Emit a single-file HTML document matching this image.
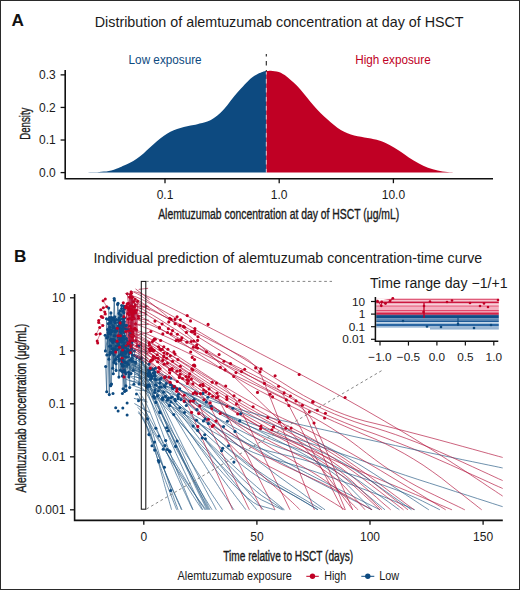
<!DOCTYPE html>
<html><head><meta charset="utf-8"><style>
html,body{margin:0;padding:0;background:#fff;}
svg{display:block;}
text{font-family:"Liberation Sans", sans-serif;}
</style></head><body>
<svg width="520" height="590" viewBox="0 0 520 590">
<defs><clipPath id="clipB"><rect x="75.4" y="283" width="427.4" height="228"/></clipPath></defs>
<rect x="0" y="0" width="520" height="590" fill="#fff"/>
<rect x="0.5" y="0.5" width="519" height="589" fill="none" stroke="#2a2a2a" stroke-width="1"/>
<path d="M84.00,172.60 L84.00,172.60 C85.33,172.55 89.47,172.42 92.00,172.30 C94.53,172.18 96.40,172.12 99.20,171.90 C102.00,171.68 105.58,171.67 108.80,171.00 C112.02,170.33 115.97,168.80 118.50,167.90 C121.03,167.00 122.08,166.45 124.00,165.60 C125.92,164.75 127.88,163.95 130.00,162.80 C132.12,161.65 134.45,160.27 136.70,158.70 C138.95,157.13 141.25,155.30 143.50,153.40 C145.75,151.50 147.97,149.33 150.20,147.30 C152.43,145.27 154.67,143.10 156.90,141.20 C159.13,139.30 161.35,137.47 163.60,135.90 C165.85,134.33 168.15,132.93 170.40,131.80 C172.65,130.67 174.87,129.88 177.10,129.10 C179.33,128.32 181.55,127.70 183.80,127.10 C186.05,126.50 188.35,125.98 190.60,125.50 C192.85,125.02 194.52,124.85 197.30,124.20 C200.08,123.55 204.52,122.63 207.30,121.60 C210.08,120.57 211.75,119.52 214.00,118.00 C216.25,116.48 218.55,114.68 220.80,112.50 C223.05,110.32 225.27,107.60 227.50,104.90 C229.73,102.20 231.95,99.03 234.20,96.30 C236.45,93.57 238.75,90.97 241.00,88.50 C243.25,86.03 245.70,83.45 247.70,81.50 C249.70,79.55 251.20,78.13 253.00,76.80 C254.80,75.47 256.92,74.32 258.50,73.50 C260.08,72.68 261.20,72.30 262.50,71.90 C263.80,71.50 265.67,71.23 266.30,71.10 L266.30,172.60 Z" fill="#0d4a80"/>
<path d="M266.30,172.60 L266.30,71.10 C267.05,71.05 269.42,70.78 270.80,70.80 C272.18,70.82 273.27,70.98 274.60,71.20 C275.93,71.42 277.43,71.63 278.80,72.10 C280.17,72.57 281.45,73.23 282.80,74.00 C284.15,74.77 285.10,75.27 286.90,76.70 C288.70,78.13 291.35,80.45 293.60,82.60 C295.85,84.75 298.17,87.10 300.40,89.60 C302.63,92.10 304.77,94.90 307.00,97.60 C309.23,100.30 311.55,103.23 313.80,105.80 C316.05,108.37 318.25,110.77 320.50,113.00 C322.75,115.23 325.05,117.20 327.30,119.20 C329.55,121.20 331.75,123.20 334.00,125.00 C336.25,126.80 338.55,128.63 340.80,130.00 C343.05,131.37 345.27,132.30 347.50,133.20 C349.73,134.10 351.95,134.80 354.20,135.40 C356.45,136.00 358.75,136.35 361.00,136.80 C363.25,137.25 365.53,137.70 367.70,138.10 C369.87,138.50 371.95,138.75 374.00,139.20 C376.05,139.65 377.40,139.83 380.00,140.80 C382.60,141.77 386.40,143.33 389.60,145.00 C392.80,146.67 396.00,148.72 399.20,150.80 C402.40,152.88 405.58,155.42 408.80,157.50 C412.02,159.58 415.30,161.60 418.50,163.30 C421.70,165.00 424.80,166.52 428.00,167.70 C431.20,168.88 434.48,169.70 437.70,170.40 C440.92,171.10 444.25,171.57 447.30,171.90 C450.35,172.23 452.80,172.28 456.00,172.40 C459.20,172.52 463.83,172.57 466.50,172.60 C469.17,172.63 471.08,172.60 472.00,172.60 L472.00,172.60 Z" fill="#c00024"/>
<line x1="266.3" y1="54" x2="266.3" y2="71.5" stroke="#222" stroke-width="1.1" stroke-dasharray="4.6,4.4" stroke-dashoffset="2.1"/>
<line x1="266.3" y1="72" x2="266.3" y2="172.6" stroke="#fff" stroke-opacity="0.75" stroke-width="0.9" stroke-dasharray="4.6,4.4" stroke-dashoffset="2.1"/>
<path d="M65.2,70 V178.7 H493" fill="none" stroke="#111" stroke-width="1.6"/>
<line x1="60.6" y1="172.60" x2="65.2" y2="172.60" stroke="#111" stroke-width="1.3"/>
<text x="55.8" y="176.80" font-size="12" text-anchor="end" fill="#1a1a1a">0.0</text>
<line x1="60.6" y1="140.02" x2="65.2" y2="140.02" stroke="#111" stroke-width="1.3"/>
<text x="55.8" y="144.22" font-size="12" text-anchor="end" fill="#1a1a1a">0.1</text>
<line x1="60.6" y1="107.44" x2="65.2" y2="107.44" stroke="#111" stroke-width="1.3"/>
<text x="55.8" y="111.64" font-size="12" text-anchor="end" fill="#1a1a1a">0.2</text>
<line x1="60.6" y1="74.86" x2="65.2" y2="74.86" stroke="#111" stroke-width="1.3"/>
<text x="55.8" y="79.06" font-size="12" text-anchor="end" fill="#1a1a1a">0.3</text>
<line x1="165.00" y1="178.7" x2="165.00" y2="183.2" stroke="#111" stroke-width="1.3"/>
<text x="165.00" y="198.8" font-size="12" text-anchor="middle" fill="#1a1a1a">0.1</text>
<line x1="279.20" y1="178.7" x2="279.20" y2="183.2" stroke="#111" stroke-width="1.3"/>
<text x="279.20" y="198.8" font-size="12" text-anchor="middle" fill="#1a1a1a">1.0</text>
<line x1="393.40" y1="178.7" x2="393.40" y2="183.2" stroke="#111" stroke-width="1.3"/>
<text x="393.40" y="198.8" font-size="12" text-anchor="middle" fill="#1a1a1a">10.0</text>
<path d="M74.6,294 V520.4 H502.8" fill="none" stroke="#111" stroke-width="1.6"/>
<line x1="70" y1="297.80" x2="74.6" y2="297.80" stroke="#111" stroke-width="1.3"/>
<text x="65.4" y="302.00" font-size="12" text-anchor="end" fill="#1a1a1a">10</text>
<line x1="70" y1="350.80" x2="74.6" y2="350.80" stroke="#111" stroke-width="1.3"/>
<text x="65.4" y="355.00" font-size="12" text-anchor="end" fill="#1a1a1a">1</text>
<line x1="70" y1="403.80" x2="74.6" y2="403.80" stroke="#111" stroke-width="1.3"/>
<text x="65.4" y="408.00" font-size="12" text-anchor="end" fill="#1a1a1a">0.1</text>
<line x1="70" y1="456.80" x2="74.6" y2="456.80" stroke="#111" stroke-width="1.3"/>
<text x="65.4" y="461.00" font-size="12" text-anchor="end" fill="#1a1a1a">0.01</text>
<line x1="70" y1="509.80" x2="74.6" y2="509.80" stroke="#111" stroke-width="1.3"/>
<text x="65.4" y="514.00" font-size="12" text-anchor="end" fill="#1a1a1a">0.001</text>
<line x1="143.80" y1="520.4" x2="143.80" y2="524.8" stroke="#111" stroke-width="1.3"/>
<text x="143.80" y="540.7" font-size="12" text-anchor="middle" fill="#1a1a1a">0</text>
<line x1="256.90" y1="520.4" x2="256.90" y2="524.8" stroke="#111" stroke-width="1.3"/>
<text x="256.90" y="540.7" font-size="12" text-anchor="middle" fill="#1a1a1a">50</text>
<line x1="370.00" y1="520.4" x2="370.00" y2="524.8" stroke="#111" stroke-width="1.3"/>
<text x="370.00" y="540.7" font-size="12" text-anchor="middle" fill="#1a1a1a">100</text>
<line x1="483.10" y1="520.4" x2="483.10" y2="524.8" stroke="#111" stroke-width="1.3"/>
<text x="483.10" y="540.7" font-size="12" text-anchor="middle" fill="#1a1a1a">150</text>
<g clip-path="url(#clipB)">
<polyline points="105.3,299.0 103.1,300.7 106.8,306.8 103.3,307.8 100.7,309.8 104.8,311.9 105.3,313.9 101.2,316.4 102.8,317.5 98.7,320.5 98.7,322.6 102.8,325.6 99.7,327.6 96.1,334.3 100.2,333.7 97.2,340.9 97.7,342.9" fill="none" stroke="#b41840" stroke-width="0.75" stroke-opacity="0.7"/>
<polyline points="118.3,336.9 118.7,344.9 118.9,377.1 119.4,324.1 120.4,370.2 122.3,355.1 122.9,347.2 123.7,371.1 123.9,345.4" fill="none" stroke="#2a5c86" stroke-width="0.9" stroke-opacity="0.80"/>
<polyline points="106.8,355.0 108.3,323.6 108.9,359.3 110.7,345.7 113.9,355.0" fill="none" stroke="#2a5c86" stroke-width="0.9" stroke-opacity="0.80"/>
<polyline points="111.0,339.2 111.7,330.5 112.7,342.6 112.7,368.2 114.0,340.0 114.9,322.5 115.4,341.3" fill="none" stroke="#2a5c86" stroke-width="0.9" stroke-opacity="0.80"/>
<polyline points="118.3,325.8 118.4,322.6 121.4,324.0 122.2,322.3" fill="none" stroke="#2a5c86" stroke-width="0.9" stroke-opacity="0.80"/>
<polyline points="121.7,360.4 124.6,391.4 124.7,328.5 125.9,346.6" fill="none" stroke="#2a5c86" stroke-width="0.9" stroke-opacity="0.80"/>
<polyline points="121.4,359.2 121.9,371.2 122.5,335.9 123.1,388.8" fill="none" stroke="#2a5c86" stroke-width="0.9" stroke-opacity="0.80"/>
<polyline points="109.7,332.7 111.8,348.7 112.0,341.3 112.7,318.1" fill="none" stroke="#2a5c86" stroke-width="0.9" stroke-opacity="0.80"/>
<polyline points="105.2,335.2 105.4,350.9 108.3,332.5 109.5,346.2 110.3,352.2 111.0,321.6" fill="none" stroke="#2a5c86" stroke-width="0.9" stroke-opacity="0.80"/>
<polyline points="110.1,322.8 110.7,340.1 110.9,312.9 111.4,317.6 111.5,331.7 115.0,322.8 115.2,335.7" fill="none" stroke="#2a5c86" stroke-width="0.9" stroke-opacity="0.80"/>
<polyline points="127.5,348.7 128.4,350.9 129.8,335.0 129.9,350.5 130.5,334.1 132.0,344.4" fill="none" stroke="#2a5c86" stroke-width="0.9" stroke-opacity="0.80"/>
<polyline points="120.3,331.6 120.8,329.0 120.9,347.1 120.9,331.3 121.3,346.7 122.0,340.8 123.6,347.5 124.0,332.5 124.5,336.0" fill="none" stroke="#2a5c86" stroke-width="0.9" stroke-opacity="0.80"/>
<polyline points="111.0,352.4 113.2,348.8 113.6,327.1 115.0,350.4 115.8,358.9 116.7,341.6" fill="none" stroke="#2a5c86" stroke-width="0.9" stroke-opacity="0.80"/>
<polyline points="118.3,342.0 118.8,359.3 120.9,353.9 121.4,324.9 122.1,358.9 122.4,324.9 123.3,322.0 124.0,324.3" fill="none" stroke="#2a5c86" stroke-width="0.9" stroke-opacity="0.80"/>
<polyline points="126.7,345.4 127.5,361.9 128.4,364.6 128.7,345.6 129.4,331.2 130.0,344.5 131.1,352.6" fill="none" stroke="#2a5c86" stroke-width="0.9" stroke-opacity="0.80"/>
<polyline points="118.6,327.5 120.0,310.8 120.4,339.5 120.9,315.4 121.3,333.1 124.3,321.6" fill="none" stroke="#2a5c86" stroke-width="0.9" stroke-opacity="0.80"/>
<polyline points="108.7,308.1 109.7,354.5 110.6,385.8 110.8,385.0 111.5,384.0 111.9,318.7 112.8,353.3 115.2,332.0 115.3,351.5" fill="none" stroke="#2a5c86" stroke-width="0.9" stroke-opacity="0.80"/>
<polyline points="117.7,342.7 119.0,313.4 119.1,320.7 119.4,320.1 120.1,327.7 121.6,308.6" fill="none" stroke="#2a5c86" stroke-width="0.9" stroke-opacity="0.80"/>
<polyline points="126.0,338.7 127.1,341.2 131.2,343.9 131.3,345.8 131.6,335.5 132.3,341.5" fill="none" stroke="#2a5c86" stroke-width="0.9" stroke-opacity="0.80"/>
<polyline points="119.4,335.4 122.4,376.1 122.5,342.0 124.5,356.1" fill="none" stroke="#2a5c86" stroke-width="0.9" stroke-opacity="0.80"/>
<polyline points="125.6,325.7 126.8,329.7 126.8,329.3 127.7,329.4 128.6,330.5 129.6,330.2 130.3,329.2" fill="none" stroke="#2a5c86" stroke-width="0.9" stroke-opacity="0.80"/>
<polyline points="121.7,353.1 122.2,365.7 124.0,351.2 124.2,339.4 126.3,357.3 126.5,325.3 127.2,329.3" fill="none" stroke="#2a5c86" stroke-width="0.9" stroke-opacity="0.80"/>
<polyline points="105.7,366.5 106.7,391.8 107.6,329.5 109.3,394.6 109.7,320.3 109.8,327.3 110.7,334.3" fill="none" stroke="#2a5c86" stroke-width="0.9" stroke-opacity="0.80"/>
<polyline points="117.6,304.5 120.1,325.1 120.4,323.9 121.7,305.5 122.5,319.0 123.0,311.3 124.2,306.2" fill="none" stroke="#2a5c86" stroke-width="0.9" stroke-opacity="0.80"/>
<polyline points="113.3,327.3 115.0,360.2 116.3,328.6 116.8,329.2 117.8,345.8 118.9,348.3" fill="none" stroke="#2a5c86" stroke-width="0.9" stroke-opacity="0.80"/>
<polyline points="113.2,339.3 113.3,373.7 114.1,318.1 116.2,346.3" fill="none" stroke="#2a5c86" stroke-width="0.9" stroke-opacity="0.80"/>
<polyline points="108.4,319.5 109.6,317.5 109.7,329.9 112.5,331.1 113.9,318.8 114.9,349.7 115.0,348.8" fill="none" stroke="#2a5c86" stroke-width="0.9" stroke-opacity="0.80"/>
<polyline points="117.7,356.7 119.0,318.0 119.6,339.5 122.7,326.5 124.4,326.7" fill="none" stroke="#2a5c86" stroke-width="0.9" stroke-opacity="0.80"/>
<polyline points="106.5,318.7 106.7,337.9 109.6,318.5 109.9,332.0 112.9,325.5" fill="none" stroke="#2a5c86" stroke-width="0.9" stroke-opacity="0.80"/>
<polyline points="108.0,336.9 108.5,333.7 110.2,331.0 111.1,322.9 113.2,327.7 114.0,335.8" fill="none" stroke="#2a5c86" stroke-width="0.9" stroke-opacity="0.80"/>
<polyline points="113.6,320.3 114.2,298.5 114.4,300.3 114.8,320.5 115.6,330.6 116.1,329.7 118.0,303.2" fill="none" stroke="#2a5c86" stroke-width="0.9" stroke-opacity="0.80"/>
<polyline points="113.9,340.1 114.0,362.4 114.8,316.8 116.9,331.0 116.9,349.8 118.8,320.4" fill="none" stroke="#2a5c86" stroke-width="0.9" stroke-opacity="0.80"/>
<polyline points="122.0,324.2 122.7,330.8 123.2,329.1 123.3,319.4 123.8,312.7 124.3,307.8 124.4,308.9 124.6,318.0" fill="none" stroke="#2a5c86" stroke-width="0.9" stroke-opacity="0.80"/>
<polyline points="125.8,351.7 126.3,338.5 126.5,351.8 128.4,356.7 128.6,351.2 129.2,353.6 131.0,373.6 131.9,332.6 132.4,355.1" fill="none" stroke="#2a5c86" stroke-width="0.9" stroke-opacity="0.80"/>
<polyline points="113.5,351.1 114.5,340.5 116.0,363.8 116.1,370.4 116.6,319.6" fill="none" stroke="#2a5c86" stroke-width="0.9" stroke-opacity="0.80"/>
<polyline points="121.4,341.9 121.5,363.7 121.7,351.5 123.1,349.5 123.3,365.9 125.1,372.1" fill="none" stroke="#2a5c86" stroke-width="0.9" stroke-opacity="0.80"/>
<polyline points="118.5,342.7 118.9,360.9 119.2,355.2 120.3,328.8 121.7,337.7 122.2,337.6 123.8,323.1" fill="none" stroke="#2a5c86" stroke-width="0.9" stroke-opacity="0.80"/>
<polyline points="123.3,302.7 123.9,316.7 128.2,343.7" fill="none" stroke="#b41840" stroke-width="0.9" stroke-opacity="0.80"/>
<polyline points="132.3,331.1 132.3,317.3 132.5,307.4 132.9,316.8 135.0,299.3" fill="none" stroke="#b41840" stroke-width="0.9" stroke-opacity="0.80"/>
<polyline points="134.8,328.9 135.5,323.9 135.6,312.7 138.4,316.0 138.6,318.2" fill="none" stroke="#b41840" stroke-width="0.9" stroke-opacity="0.80"/>
<polyline points="126.2,306.1 129.1,315.0 130.3,312.0" fill="none" stroke="#b41840" stroke-width="0.9" stroke-opacity="0.80"/>
<polyline points="132.0,307.3 133.2,313.4 134.3,306.9 134.9,328.2 135.7,340.8" fill="none" stroke="#b41840" stroke-width="0.9" stroke-opacity="0.80"/>
<polyline points="130.9,345.6 131.5,297.5 131.6,335.9 132.1,319.4 132.4,297.3 133.9,336.0" fill="none" stroke="#b41840" stroke-width="0.9" stroke-opacity="0.80"/>
<polyline points="126.9,307.6 128.9,309.8 129.0,307.7 130.1,305.9 130.8,308.8 132.1,312.7 132.5,314.3" fill="none" stroke="#b41840" stroke-width="0.9" stroke-opacity="0.80"/>
<polyline points="133.6,301.6 136.4,310.3 136.4,329.9 137.0,345.9 137.5,301.2" fill="none" stroke="#b41840" stroke-width="0.9" stroke-opacity="0.80"/>
<polyline points="129.8,311.8 133.3,312.5 134.3,311.8 134.7,311.6" fill="none" stroke="#b41840" stroke-width="0.9" stroke-opacity="0.80"/>
<polyline points="131.3,309.9 132.7,334.7 134.5,310.1" fill="none" stroke="#b41840" stroke-width="0.9" stroke-opacity="0.80"/>
<polyline points="127.8,307.8 128.1,343.1 128.3,319.1 130.4,352.6 131.1,306.7 131.3,347.8 132.0,306.6" fill="none" stroke="#b41840" stroke-width="0.9" stroke-opacity="0.80"/>
<polyline points="130.5,294.4 131.2,306.7 131.8,313.9 132.5,337.5 132.7,333.8 133.0,340.5 134.6,328.8" fill="none" stroke="#b41840" stroke-width="0.9" stroke-opacity="0.80"/>
<polyline points="125.8,331.5 127.2,303.8 127.8,313.5 130.8,306.2" fill="none" stroke="#b41840" stroke-width="0.9" stroke-opacity="0.80"/>
<polyline points="131.1,296.4 131.4,309.1 131.4,293.3 131.8,311.6 134.3,318.5 135.4,304.9" fill="none" stroke="#b41840" stroke-width="0.9" stroke-opacity="0.80"/>
<polyline points="125.6,307.6 129.2,342.8 130.6,330.5 130.7,309.2" fill="none" stroke="#b41840" stroke-width="0.9" stroke-opacity="0.80"/>
<polyline points="128.3,331.0 129.5,297.1 132.6,331.7" fill="none" stroke="#b41840" stroke-width="0.9" stroke-opacity="0.80"/>
<polyline points="127.3,293.8 128.4,303.4 129.9,326.2 130.0,318.3 131.1,292.0" fill="none" stroke="#b41840" stroke-width="0.9" stroke-opacity="0.80"/>
<polyline points="131.0,328.9 132.1,297.1 132.4,306.9" fill="none" stroke="#b41840" stroke-width="0.9" stroke-opacity="0.80"/>
<polyline points="130.3,341.1 130.5,335.0 132.7,315.0" fill="none" stroke="#b41840" stroke-width="0.9" stroke-opacity="0.80"/>
<line x1="138.8" y1="316.1" x2="147.4" y2="314.4" stroke="#b41840" stroke-width="0.9" stroke-opacity="0.8"/>
<line x1="132.7" y1="296.7" x2="149.4" y2="307.3" stroke="#b41840" stroke-width="0.9" stroke-opacity="0.8"/>
<line x1="132.2" y1="347.3" x2="148.5" y2="358.9" stroke="#b41840" stroke-width="0.9" stroke-opacity="0.8"/>
<line x1="132.6" y1="300.0" x2="149.9" y2="310.5" stroke="#b41840" stroke-width="0.9" stroke-opacity="0.8"/>
<line x1="132.1" y1="347.3" x2="148.3" y2="354.0" stroke="#b41840" stroke-width="0.9" stroke-opacity="0.8"/>
<line x1="138.7" y1="289.4" x2="148.1" y2="288.3" stroke="#b41840" stroke-width="0.9" stroke-opacity="0.8"/>
<line x1="138.2" y1="341.3" x2="148.3" y2="354.2" stroke="#b41840" stroke-width="0.9" stroke-opacity="0.8"/>
<line x1="137.3" y1="324.4" x2="148.7" y2="324.3" stroke="#b41840" stroke-width="0.9" stroke-opacity="0.8"/>
<line x1="135.4" y1="338.4" x2="149.0" y2="349.2" stroke="#b41840" stroke-width="0.9" stroke-opacity="0.8"/>
<line x1="135.5" y1="288.9" x2="149.6" y2="299.6" stroke="#b41840" stroke-width="0.9" stroke-opacity="0.8"/>
<line x1="133.3" y1="306.8" x2="147.7" y2="306.2" stroke="#b41840" stroke-width="0.9" stroke-opacity="0.8"/>
<line x1="138.7" y1="310.9" x2="146.8" y2="314.0" stroke="#b41840" stroke-width="0.9" stroke-opacity="0.8"/>
<line x1="133.5" y1="310.5" x2="147.0" y2="306.6" stroke="#b41840" stroke-width="0.9" stroke-opacity="0.8"/>
<line x1="137.1" y1="335.0" x2="149.2" y2="332.4" stroke="#b41840" stroke-width="0.9" stroke-opacity="0.8"/>
<line x1="137.5" y1="313.4" x2="146.6" y2="312.1" stroke="#b41840" stroke-width="0.9" stroke-opacity="0.8"/>
<line x1="137.2" y1="318.6" x2="149.1" y2="320.3" stroke="#b41840" stroke-width="0.9" stroke-opacity="0.8"/>
<line x1="135.7" y1="354.6" x2="148.1" y2="360.5" stroke="#2a5c86" stroke-width="0.9" stroke-opacity="0.8"/>
<line x1="137.0" y1="398.7" x2="146.6" y2="400.1" stroke="#2a5c86" stroke-width="0.9" stroke-opacity="0.8"/>
<line x1="133.1" y1="370.0" x2="148.8" y2="373.5" stroke="#2a5c86" stroke-width="0.9" stroke-opacity="0.8"/>
<line x1="134.4" y1="403.5" x2="149.6" y2="412.5" stroke="#2a5c86" stroke-width="0.9" stroke-opacity="0.8"/>
<line x1="134.3" y1="374.0" x2="146.9" y2="378.8" stroke="#2a5c86" stroke-width="0.9" stroke-opacity="0.8"/>
<line x1="139.3" y1="376.6" x2="148.4" y2="390.5" stroke="#2a5c86" stroke-width="0.9" stroke-opacity="0.8"/>
<line x1="139.7" y1="351.1" x2="147.0" y2="351.3" stroke="#2a5c86" stroke-width="0.9" stroke-opacity="0.8"/>
<line x1="135.1" y1="389.9" x2="147.3" y2="390.8" stroke="#2a5c86" stroke-width="0.9" stroke-opacity="0.8"/>
<line x1="132.1" y1="363.9" x2="147.2" y2="375.4" stroke="#2a5c86" stroke-width="0.9" stroke-opacity="0.8"/>
<line x1="133.9" y1="398.3" x2="147.6" y2="402.1" stroke="#2a5c86" stroke-width="0.9" stroke-opacity="0.8"/>
<polyline points="122.1,358.2 122.5,361.3 124.1,377.0" fill="none" stroke="#b41840" stroke-width="0.9" stroke-opacity="0.80"/>
<polyline points="122.6,350.0 126.0,346.0" fill="none" stroke="#b41840" stroke-width="0.9" stroke-opacity="0.80"/>
<polyline points="115.7,352.1 119.6,347.3" fill="none" stroke="#b41840" stroke-width="0.9" stroke-opacity="0.80"/>
<polyline points="117.3,328.3" fill="none" stroke="#b41840" stroke-width="0.9" stroke-opacity="0.80"/>
<polyline points="117.1,341.3 120.1,322.9" fill="none" stroke="#b41840" stroke-width="0.9" stroke-opacity="0.80"/>
<polyline points="118.0,335.8 120.4,335.7" fill="none" stroke="#b41840" stroke-width="0.9" stroke-opacity="0.80"/>
<polyline points="126.8,366.1 128.5,372.3 128.8,377.1 128.9,374.9 129.6,360.4 129.7,387.6" fill="none" stroke="#2a5c86" stroke-width="0.9" stroke-opacity="0.80"/>
<polyline points="122.9,372.0 123.0,346.0 124.3,370.5 124.8,352.6 125.9,373.6 126.1,347.9" fill="none" stroke="#2a5c86" stroke-width="0.9" stroke-opacity="0.80"/>
<polyline points="124.8,362.6 125.0,362.3 126.6,363.4" fill="none" stroke="#2a5c86" stroke-width="0.9" stroke-opacity="0.80"/>
<polyline points="133.9,384.3 135.6,363.1 135.7,362.3 136.8,357.4" fill="none" stroke="#2a5c86" stroke-width="0.9" stroke-opacity="0.80"/>
<polyline points="131.1,359.0 131.6,361.5 131.9,349.1 133.0,361.5 134.4,355.6 134.4,350.9" fill="none" stroke="#2a5c86" stroke-width="0.9" stroke-opacity="0.80"/>
<polyline points="132.3,358.2 133.3,370.4 134.6,362.1" fill="none" stroke="#2a5c86" stroke-width="0.9" stroke-opacity="0.80"/>
<polyline points="124.9,355.5 125.8,353.3 125.9,385.9" fill="none" stroke="#2a5c86" stroke-width="0.9" stroke-opacity="0.80"/>
<polyline points="139.0,346.0 139.1,384.0 139.8,358.9 141.9,357.7 142.3,362.4" fill="none" stroke="#2a5c86" stroke-width="0.9" stroke-opacity="0.80"/>
<polyline points="123.2,360.4 123.3,365.8 123.7,338.4 124.5,342.7 124.9,353.3 126.2,390.4" fill="none" stroke="#2a5c86" stroke-width="0.9" stroke-opacity="0.80"/>
<circle cx="105.3" cy="299.0" r="1.5" fill="#c00024"/>
<circle cx="103.1" cy="300.7" r="1.5" fill="#c00024"/>
<circle cx="106.8" cy="306.8" r="1.5" fill="#c00024"/>
<circle cx="103.3" cy="307.8" r="1.5" fill="#c00024"/>
<circle cx="100.7" cy="309.8" r="1.5" fill="#c00024"/>
<circle cx="104.8" cy="311.9" r="1.5" fill="#c00024"/>
<circle cx="105.3" cy="313.9" r="1.5" fill="#c00024"/>
<circle cx="101.2" cy="316.4" r="1.5" fill="#c00024"/>
<circle cx="102.8" cy="317.5" r="1.5" fill="#c00024"/>
<circle cx="98.7" cy="320.5" r="1.5" fill="#c00024"/>
<circle cx="98.7" cy="322.6" r="1.5" fill="#c00024"/>
<circle cx="102.8" cy="325.6" r="1.5" fill="#c00024"/>
<circle cx="99.7" cy="327.6" r="1.5" fill="#c00024"/>
<circle cx="96.1" cy="334.3" r="1.5" fill="#c00024"/>
<circle cx="100.2" cy="333.7" r="1.5" fill="#c00024"/>
<circle cx="97.2" cy="340.9" r="1.5" fill="#c00024"/>
<circle cx="97.7" cy="342.9" r="1.5" fill="#c00024"/>
<circle cx="118.3" cy="336.9" r="1.55" fill="#0d4a80"/>
<circle cx="118.7" cy="344.9" r="1.55" fill="#0d4a80"/>
<circle cx="118.9" cy="377.1" r="1.55" fill="#0d4a80"/>
<circle cx="119.4" cy="324.1" r="1.55" fill="#0d4a80"/>
<circle cx="120.4" cy="370.2" r="1.55" fill="#0d4a80"/>
<circle cx="122.3" cy="355.1" r="1.55" fill="#0d4a80"/>
<circle cx="122.9" cy="347.2" r="1.55" fill="#0d4a80"/>
<circle cx="123.7" cy="371.1" r="1.55" fill="#0d4a80"/>
<circle cx="123.9" cy="345.4" r="1.55" fill="#0d4a80"/>
<circle cx="106.8" cy="355.0" r="1.55" fill="#0d4a80"/>
<circle cx="108.3" cy="323.6" r="1.55" fill="#0d4a80"/>
<circle cx="108.9" cy="359.3" r="1.55" fill="#0d4a80"/>
<circle cx="110.7" cy="345.7" r="1.55" fill="#0d4a80"/>
<circle cx="113.9" cy="355.0" r="1.55" fill="#0d4a80"/>
<circle cx="111.0" cy="339.2" r="1.55" fill="#0d4a80"/>
<circle cx="111.7" cy="330.5" r="1.55" fill="#0d4a80"/>
<circle cx="112.7" cy="342.6" r="1.55" fill="#0d4a80"/>
<circle cx="112.7" cy="368.2" r="1.55" fill="#0d4a80"/>
<circle cx="114.0" cy="340.0" r="1.55" fill="#0d4a80"/>
<circle cx="114.9" cy="322.5" r="1.55" fill="#0d4a80"/>
<circle cx="115.4" cy="341.3" r="1.55" fill="#0d4a80"/>
<circle cx="118.3" cy="325.8" r="1.55" fill="#0d4a80"/>
<circle cx="118.4" cy="322.6" r="1.55" fill="#0d4a80"/>
<circle cx="121.4" cy="324.0" r="1.55" fill="#0d4a80"/>
<circle cx="122.2" cy="322.3" r="1.55" fill="#0d4a80"/>
<circle cx="121.7" cy="360.4" r="1.55" fill="#0d4a80"/>
<circle cx="124.6" cy="391.4" r="1.55" fill="#0d4a80"/>
<circle cx="124.7" cy="328.5" r="1.55" fill="#0d4a80"/>
<circle cx="125.9" cy="346.6" r="1.55" fill="#0d4a80"/>
<circle cx="121.4" cy="359.2" r="1.55" fill="#0d4a80"/>
<circle cx="121.9" cy="371.2" r="1.55" fill="#0d4a80"/>
<circle cx="122.5" cy="335.9" r="1.55" fill="#0d4a80"/>
<circle cx="123.1" cy="388.8" r="1.55" fill="#0d4a80"/>
<circle cx="109.7" cy="332.7" r="1.55" fill="#0d4a80"/>
<circle cx="111.8" cy="348.7" r="1.55" fill="#0d4a80"/>
<circle cx="112.0" cy="341.3" r="1.55" fill="#0d4a80"/>
<circle cx="112.7" cy="318.1" r="1.55" fill="#0d4a80"/>
<circle cx="105.2" cy="335.2" r="1.55" fill="#0d4a80"/>
<circle cx="105.4" cy="350.9" r="1.55" fill="#0d4a80"/>
<circle cx="108.3" cy="332.5" r="1.55" fill="#0d4a80"/>
<circle cx="109.5" cy="346.2" r="1.55" fill="#0d4a80"/>
<circle cx="110.3" cy="352.2" r="1.55" fill="#0d4a80"/>
<circle cx="111.0" cy="321.6" r="1.55" fill="#0d4a80"/>
<circle cx="110.1" cy="322.8" r="1.55" fill="#0d4a80"/>
<circle cx="110.7" cy="340.1" r="1.55" fill="#0d4a80"/>
<circle cx="110.9" cy="312.9" r="1.55" fill="#0d4a80"/>
<circle cx="111.4" cy="317.6" r="1.55" fill="#0d4a80"/>
<circle cx="111.5" cy="331.7" r="1.55" fill="#0d4a80"/>
<circle cx="115.0" cy="322.8" r="1.55" fill="#0d4a80"/>
<circle cx="115.2" cy="335.7" r="1.55" fill="#0d4a80"/>
<circle cx="127.5" cy="348.7" r="1.55" fill="#0d4a80"/>
<circle cx="128.4" cy="350.9" r="1.55" fill="#0d4a80"/>
<circle cx="129.8" cy="335.0" r="1.55" fill="#0d4a80"/>
<circle cx="129.9" cy="350.5" r="1.55" fill="#0d4a80"/>
<circle cx="130.5" cy="334.1" r="1.55" fill="#0d4a80"/>
<circle cx="132.0" cy="344.4" r="1.55" fill="#0d4a80"/>
<circle cx="120.3" cy="331.6" r="1.55" fill="#0d4a80"/>
<circle cx="120.8" cy="329.0" r="1.55" fill="#0d4a80"/>
<circle cx="120.9" cy="347.1" r="1.55" fill="#0d4a80"/>
<circle cx="120.9" cy="331.3" r="1.55" fill="#0d4a80"/>
<circle cx="121.3" cy="346.7" r="1.55" fill="#0d4a80"/>
<circle cx="122.0" cy="340.8" r="1.55" fill="#0d4a80"/>
<circle cx="123.6" cy="347.5" r="1.55" fill="#0d4a80"/>
<circle cx="124.0" cy="332.5" r="1.55" fill="#0d4a80"/>
<circle cx="124.5" cy="336.0" r="1.55" fill="#0d4a80"/>
<circle cx="111.0" cy="352.4" r="1.55" fill="#0d4a80"/>
<circle cx="113.2" cy="348.8" r="1.55" fill="#0d4a80"/>
<circle cx="113.6" cy="327.1" r="1.55" fill="#0d4a80"/>
<circle cx="115.0" cy="350.4" r="1.55" fill="#0d4a80"/>
<circle cx="115.8" cy="358.9" r="1.55" fill="#0d4a80"/>
<circle cx="116.7" cy="341.6" r="1.55" fill="#0d4a80"/>
<circle cx="118.3" cy="342.0" r="1.55" fill="#0d4a80"/>
<circle cx="118.8" cy="359.3" r="1.55" fill="#0d4a80"/>
<circle cx="120.9" cy="353.9" r="1.55" fill="#0d4a80"/>
<circle cx="121.4" cy="324.9" r="1.55" fill="#0d4a80"/>
<circle cx="122.1" cy="358.9" r="1.55" fill="#0d4a80"/>
<circle cx="122.4" cy="324.9" r="1.55" fill="#0d4a80"/>
<circle cx="123.3" cy="322.0" r="1.55" fill="#0d4a80"/>
<circle cx="124.0" cy="324.3" r="1.55" fill="#0d4a80"/>
<circle cx="126.7" cy="345.4" r="1.55" fill="#0d4a80"/>
<circle cx="127.5" cy="361.9" r="1.55" fill="#0d4a80"/>
<circle cx="128.4" cy="364.6" r="1.55" fill="#0d4a80"/>
<circle cx="128.7" cy="345.6" r="1.55" fill="#0d4a80"/>
<circle cx="129.4" cy="331.2" r="1.55" fill="#0d4a80"/>
<circle cx="130.0" cy="344.5" r="1.55" fill="#0d4a80"/>
<circle cx="131.1" cy="352.6" r="1.55" fill="#0d4a80"/>
<circle cx="118.6" cy="327.5" r="1.55" fill="#0d4a80"/>
<circle cx="120.0" cy="310.8" r="1.55" fill="#0d4a80"/>
<circle cx="120.4" cy="339.5" r="1.55" fill="#0d4a80"/>
<circle cx="120.9" cy="315.4" r="1.55" fill="#0d4a80"/>
<circle cx="121.3" cy="333.1" r="1.55" fill="#0d4a80"/>
<circle cx="124.3" cy="321.6" r="1.55" fill="#0d4a80"/>
<circle cx="108.7" cy="308.1" r="1.55" fill="#0d4a80"/>
<circle cx="109.7" cy="354.5" r="1.55" fill="#0d4a80"/>
<circle cx="110.6" cy="385.8" r="1.55" fill="#0d4a80"/>
<circle cx="110.8" cy="385.0" r="1.55" fill="#0d4a80"/>
<circle cx="111.5" cy="384.0" r="1.55" fill="#0d4a80"/>
<circle cx="111.9" cy="318.7" r="1.55" fill="#0d4a80"/>
<circle cx="112.8" cy="353.3" r="1.55" fill="#0d4a80"/>
<circle cx="115.2" cy="332.0" r="1.55" fill="#0d4a80"/>
<circle cx="115.3" cy="351.5" r="1.55" fill="#0d4a80"/>
<circle cx="117.7" cy="342.7" r="1.55" fill="#0d4a80"/>
<circle cx="119.0" cy="313.4" r="1.55" fill="#0d4a80"/>
<circle cx="119.1" cy="320.7" r="1.55" fill="#0d4a80"/>
<circle cx="119.4" cy="320.1" r="1.55" fill="#0d4a80"/>
<circle cx="120.1" cy="327.7" r="1.55" fill="#0d4a80"/>
<circle cx="121.6" cy="308.6" r="1.55" fill="#0d4a80"/>
<circle cx="126.0" cy="338.7" r="1.55" fill="#0d4a80"/>
<circle cx="127.1" cy="341.2" r="1.55" fill="#0d4a80"/>
<circle cx="131.2" cy="343.9" r="1.55" fill="#0d4a80"/>
<circle cx="131.3" cy="345.8" r="1.55" fill="#0d4a80"/>
<circle cx="131.6" cy="335.5" r="1.55" fill="#0d4a80"/>
<circle cx="132.3" cy="341.5" r="1.55" fill="#0d4a80"/>
<circle cx="119.4" cy="335.4" r="1.55" fill="#0d4a80"/>
<circle cx="122.4" cy="376.1" r="1.55" fill="#0d4a80"/>
<circle cx="122.5" cy="342.0" r="1.55" fill="#0d4a80"/>
<circle cx="124.5" cy="356.1" r="1.55" fill="#0d4a80"/>
<circle cx="125.6" cy="325.7" r="1.55" fill="#0d4a80"/>
<circle cx="126.8" cy="329.7" r="1.55" fill="#0d4a80"/>
<circle cx="126.8" cy="329.3" r="1.55" fill="#0d4a80"/>
<circle cx="127.7" cy="329.4" r="1.55" fill="#0d4a80"/>
<circle cx="128.6" cy="330.5" r="1.55" fill="#0d4a80"/>
<circle cx="129.6" cy="330.2" r="1.55" fill="#0d4a80"/>
<circle cx="130.3" cy="329.2" r="1.55" fill="#0d4a80"/>
<circle cx="121.7" cy="353.1" r="1.55" fill="#0d4a80"/>
<circle cx="122.2" cy="365.7" r="1.55" fill="#0d4a80"/>
<circle cx="124.0" cy="351.2" r="1.55" fill="#0d4a80"/>
<circle cx="124.2" cy="339.4" r="1.55" fill="#0d4a80"/>
<circle cx="126.3" cy="357.3" r="1.55" fill="#0d4a80"/>
<circle cx="126.5" cy="325.3" r="1.55" fill="#0d4a80"/>
<circle cx="127.2" cy="329.3" r="1.55" fill="#0d4a80"/>
<circle cx="105.7" cy="366.5" r="1.55" fill="#0d4a80"/>
<circle cx="106.7" cy="391.8" r="1.55" fill="#0d4a80"/>
<circle cx="107.6" cy="329.5" r="1.55" fill="#0d4a80"/>
<circle cx="109.3" cy="394.6" r="1.55" fill="#0d4a80"/>
<circle cx="109.7" cy="320.3" r="1.55" fill="#0d4a80"/>
<circle cx="109.8" cy="327.3" r="1.55" fill="#0d4a80"/>
<circle cx="110.7" cy="334.3" r="1.55" fill="#0d4a80"/>
<circle cx="117.6" cy="304.5" r="1.55" fill="#0d4a80"/>
<circle cx="120.1" cy="325.1" r="1.55" fill="#0d4a80"/>
<circle cx="120.4" cy="323.9" r="1.55" fill="#0d4a80"/>
<circle cx="121.7" cy="305.5" r="1.55" fill="#0d4a80"/>
<circle cx="122.5" cy="319.0" r="1.55" fill="#0d4a80"/>
<circle cx="123.0" cy="311.3" r="1.55" fill="#0d4a80"/>
<circle cx="124.2" cy="306.2" r="1.55" fill="#0d4a80"/>
<circle cx="113.3" cy="327.3" r="1.55" fill="#0d4a80"/>
<circle cx="115.0" cy="360.2" r="1.55" fill="#0d4a80"/>
<circle cx="116.3" cy="328.6" r="1.55" fill="#0d4a80"/>
<circle cx="116.8" cy="329.2" r="1.55" fill="#0d4a80"/>
<circle cx="117.8" cy="345.8" r="1.55" fill="#0d4a80"/>
<circle cx="118.9" cy="348.3" r="1.55" fill="#0d4a80"/>
<circle cx="113.2" cy="339.3" r="1.55" fill="#0d4a80"/>
<circle cx="113.3" cy="373.7" r="1.55" fill="#0d4a80"/>
<circle cx="114.1" cy="318.1" r="1.55" fill="#0d4a80"/>
<circle cx="116.2" cy="346.3" r="1.55" fill="#0d4a80"/>
<circle cx="108.4" cy="319.5" r="1.55" fill="#0d4a80"/>
<circle cx="109.6" cy="317.5" r="1.55" fill="#0d4a80"/>
<circle cx="109.7" cy="329.9" r="1.55" fill="#0d4a80"/>
<circle cx="112.5" cy="331.1" r="1.55" fill="#0d4a80"/>
<circle cx="113.9" cy="318.8" r="1.55" fill="#0d4a80"/>
<circle cx="114.9" cy="349.7" r="1.55" fill="#0d4a80"/>
<circle cx="115.0" cy="348.8" r="1.55" fill="#0d4a80"/>
<circle cx="117.7" cy="356.7" r="1.55" fill="#0d4a80"/>
<circle cx="119.0" cy="318.0" r="1.55" fill="#0d4a80"/>
<circle cx="119.6" cy="339.5" r="1.55" fill="#0d4a80"/>
<circle cx="122.7" cy="326.5" r="1.55" fill="#0d4a80"/>
<circle cx="124.4" cy="326.7" r="1.55" fill="#0d4a80"/>
<circle cx="106.5" cy="318.7" r="1.55" fill="#0d4a80"/>
<circle cx="106.7" cy="337.9" r="1.55" fill="#0d4a80"/>
<circle cx="109.6" cy="318.5" r="1.55" fill="#0d4a80"/>
<circle cx="109.9" cy="332.0" r="1.55" fill="#0d4a80"/>
<circle cx="112.9" cy="325.5" r="1.55" fill="#0d4a80"/>
<circle cx="108.0" cy="336.9" r="1.55" fill="#0d4a80"/>
<circle cx="108.5" cy="333.7" r="1.55" fill="#0d4a80"/>
<circle cx="110.2" cy="331.0" r="1.55" fill="#0d4a80"/>
<circle cx="111.1" cy="322.9" r="1.55" fill="#0d4a80"/>
<circle cx="113.2" cy="327.7" r="1.55" fill="#0d4a80"/>
<circle cx="114.0" cy="335.8" r="1.55" fill="#0d4a80"/>
<circle cx="113.6" cy="320.3" r="1.55" fill="#0d4a80"/>
<circle cx="114.2" cy="298.5" r="1.55" fill="#0d4a80"/>
<circle cx="114.4" cy="300.3" r="1.55" fill="#0d4a80"/>
<circle cx="114.8" cy="320.5" r="1.55" fill="#0d4a80"/>
<circle cx="115.6" cy="330.6" r="1.55" fill="#0d4a80"/>
<circle cx="116.1" cy="329.7" r="1.55" fill="#0d4a80"/>
<circle cx="118.0" cy="303.2" r="1.55" fill="#0d4a80"/>
<circle cx="113.9" cy="340.1" r="1.55" fill="#0d4a80"/>
<circle cx="114.0" cy="362.4" r="1.55" fill="#0d4a80"/>
<circle cx="114.8" cy="316.8" r="1.55" fill="#0d4a80"/>
<circle cx="116.9" cy="331.0" r="1.55" fill="#0d4a80"/>
<circle cx="116.9" cy="349.8" r="1.55" fill="#0d4a80"/>
<circle cx="118.8" cy="320.4" r="1.55" fill="#0d4a80"/>
<circle cx="122.0" cy="324.2" r="1.55" fill="#0d4a80"/>
<circle cx="122.7" cy="330.8" r="1.55" fill="#0d4a80"/>
<circle cx="123.2" cy="329.1" r="1.55" fill="#0d4a80"/>
<circle cx="123.3" cy="319.4" r="1.55" fill="#0d4a80"/>
<circle cx="123.8" cy="312.7" r="1.55" fill="#0d4a80"/>
<circle cx="124.3" cy="307.8" r="1.55" fill="#0d4a80"/>
<circle cx="124.4" cy="308.9" r="1.55" fill="#0d4a80"/>
<circle cx="124.6" cy="318.0" r="1.55" fill="#0d4a80"/>
<circle cx="125.8" cy="351.7" r="1.55" fill="#0d4a80"/>
<circle cx="126.3" cy="338.5" r="1.55" fill="#0d4a80"/>
<circle cx="126.5" cy="351.8" r="1.55" fill="#0d4a80"/>
<circle cx="128.4" cy="356.7" r="1.55" fill="#0d4a80"/>
<circle cx="128.6" cy="351.2" r="1.55" fill="#0d4a80"/>
<circle cx="129.2" cy="353.6" r="1.55" fill="#0d4a80"/>
<circle cx="131.0" cy="373.6" r="1.55" fill="#0d4a80"/>
<circle cx="131.9" cy="332.6" r="1.55" fill="#0d4a80"/>
<circle cx="132.4" cy="355.1" r="1.55" fill="#0d4a80"/>
<circle cx="113.5" cy="351.1" r="1.55" fill="#0d4a80"/>
<circle cx="114.5" cy="340.5" r="1.55" fill="#0d4a80"/>
<circle cx="116.0" cy="363.8" r="1.55" fill="#0d4a80"/>
<circle cx="116.1" cy="370.4" r="1.55" fill="#0d4a80"/>
<circle cx="116.6" cy="319.6" r="1.55" fill="#0d4a80"/>
<circle cx="121.4" cy="341.9" r="1.55" fill="#0d4a80"/>
<circle cx="121.5" cy="363.7" r="1.55" fill="#0d4a80"/>
<circle cx="121.7" cy="351.5" r="1.55" fill="#0d4a80"/>
<circle cx="123.1" cy="349.5" r="1.55" fill="#0d4a80"/>
<circle cx="123.3" cy="365.9" r="1.55" fill="#0d4a80"/>
<circle cx="125.1" cy="372.1" r="1.55" fill="#0d4a80"/>
<circle cx="118.5" cy="342.7" r="1.55" fill="#0d4a80"/>
<circle cx="118.9" cy="360.9" r="1.55" fill="#0d4a80"/>
<circle cx="119.2" cy="355.2" r="1.55" fill="#0d4a80"/>
<circle cx="120.3" cy="328.8" r="1.55" fill="#0d4a80"/>
<circle cx="121.7" cy="337.7" r="1.55" fill="#0d4a80"/>
<circle cx="122.2" cy="337.6" r="1.55" fill="#0d4a80"/>
<circle cx="123.8" cy="323.1" r="1.55" fill="#0d4a80"/>
<circle cx="123.3" cy="302.7" r="1.55" fill="#c00024"/>
<circle cx="123.9" cy="316.7" r="1.55" fill="#c00024"/>
<circle cx="128.2" cy="343.7" r="1.55" fill="#c00024"/>
<circle cx="132.3" cy="331.1" r="1.55" fill="#c00024"/>
<circle cx="132.3" cy="317.3" r="1.55" fill="#c00024"/>
<circle cx="132.5" cy="307.4" r="1.55" fill="#c00024"/>
<circle cx="132.9" cy="316.8" r="1.55" fill="#c00024"/>
<circle cx="135.0" cy="299.3" r="1.55" fill="#c00024"/>
<circle cx="134.8" cy="328.9" r="1.55" fill="#c00024"/>
<circle cx="135.5" cy="323.9" r="1.55" fill="#c00024"/>
<circle cx="135.6" cy="312.7" r="1.55" fill="#c00024"/>
<circle cx="138.4" cy="316.0" r="1.55" fill="#c00024"/>
<circle cx="138.6" cy="318.2" r="1.55" fill="#c00024"/>
<circle cx="126.2" cy="306.1" r="1.55" fill="#c00024"/>
<circle cx="129.1" cy="315.0" r="1.55" fill="#c00024"/>
<circle cx="130.3" cy="312.0" r="1.55" fill="#c00024"/>
<circle cx="132.0" cy="307.3" r="1.55" fill="#c00024"/>
<circle cx="133.2" cy="313.4" r="1.55" fill="#c00024"/>
<circle cx="134.3" cy="306.9" r="1.55" fill="#c00024"/>
<circle cx="134.9" cy="328.2" r="1.55" fill="#c00024"/>
<circle cx="135.7" cy="340.8" r="1.55" fill="#c00024"/>
<circle cx="130.9" cy="345.6" r="1.55" fill="#c00024"/>
<circle cx="131.5" cy="297.5" r="1.55" fill="#c00024"/>
<circle cx="131.6" cy="335.9" r="1.55" fill="#c00024"/>
<circle cx="132.1" cy="319.4" r="1.55" fill="#c00024"/>
<circle cx="132.4" cy="297.3" r="1.55" fill="#c00024"/>
<circle cx="133.9" cy="336.0" r="1.55" fill="#c00024"/>
<circle cx="126.9" cy="307.6" r="1.55" fill="#c00024"/>
<circle cx="128.9" cy="309.8" r="1.55" fill="#c00024"/>
<circle cx="129.0" cy="307.7" r="1.55" fill="#c00024"/>
<circle cx="130.1" cy="305.9" r="1.55" fill="#c00024"/>
<circle cx="130.8" cy="308.8" r="1.55" fill="#c00024"/>
<circle cx="132.1" cy="312.7" r="1.55" fill="#c00024"/>
<circle cx="132.5" cy="314.3" r="1.55" fill="#c00024"/>
<circle cx="133.6" cy="301.6" r="1.55" fill="#c00024"/>
<circle cx="136.4" cy="310.3" r="1.55" fill="#c00024"/>
<circle cx="136.4" cy="329.9" r="1.55" fill="#c00024"/>
<circle cx="137.0" cy="345.9" r="1.55" fill="#c00024"/>
<circle cx="137.5" cy="301.2" r="1.55" fill="#c00024"/>
<circle cx="129.8" cy="311.8" r="1.55" fill="#c00024"/>
<circle cx="133.3" cy="312.5" r="1.55" fill="#c00024"/>
<circle cx="134.3" cy="311.8" r="1.55" fill="#c00024"/>
<circle cx="134.7" cy="311.6" r="1.55" fill="#c00024"/>
<circle cx="131.3" cy="309.9" r="1.55" fill="#c00024"/>
<circle cx="132.7" cy="334.7" r="1.55" fill="#c00024"/>
<circle cx="134.5" cy="310.1" r="1.55" fill="#c00024"/>
<circle cx="127.8" cy="307.8" r="1.55" fill="#c00024"/>
<circle cx="128.1" cy="343.1" r="1.55" fill="#c00024"/>
<circle cx="128.3" cy="319.1" r="1.55" fill="#c00024"/>
<circle cx="130.4" cy="352.6" r="1.55" fill="#c00024"/>
<circle cx="131.1" cy="306.7" r="1.55" fill="#c00024"/>
<circle cx="131.3" cy="347.8" r="1.55" fill="#c00024"/>
<circle cx="132.0" cy="306.6" r="1.55" fill="#c00024"/>
<circle cx="130.5" cy="294.4" r="1.55" fill="#c00024"/>
<circle cx="131.2" cy="306.7" r="1.55" fill="#c00024"/>
<circle cx="131.8" cy="313.9" r="1.55" fill="#c00024"/>
<circle cx="132.5" cy="337.5" r="1.55" fill="#c00024"/>
<circle cx="132.7" cy="333.8" r="1.55" fill="#c00024"/>
<circle cx="133.0" cy="340.5" r="1.55" fill="#c00024"/>
<circle cx="134.6" cy="328.8" r="1.55" fill="#c00024"/>
<circle cx="125.8" cy="331.5" r="1.55" fill="#c00024"/>
<circle cx="127.2" cy="303.8" r="1.55" fill="#c00024"/>
<circle cx="127.8" cy="313.5" r="1.55" fill="#c00024"/>
<circle cx="130.8" cy="306.2" r="1.55" fill="#c00024"/>
<circle cx="131.1" cy="296.4" r="1.55" fill="#c00024"/>
<circle cx="131.4" cy="309.1" r="1.55" fill="#c00024"/>
<circle cx="131.4" cy="293.3" r="1.55" fill="#c00024"/>
<circle cx="131.8" cy="311.6" r="1.55" fill="#c00024"/>
<circle cx="134.3" cy="318.5" r="1.55" fill="#c00024"/>
<circle cx="135.4" cy="304.9" r="1.55" fill="#c00024"/>
<circle cx="125.6" cy="307.6" r="1.55" fill="#c00024"/>
<circle cx="129.2" cy="342.8" r="1.55" fill="#c00024"/>
<circle cx="130.6" cy="330.5" r="1.55" fill="#c00024"/>
<circle cx="130.7" cy="309.2" r="1.55" fill="#c00024"/>
<circle cx="128.3" cy="331.0" r="1.55" fill="#c00024"/>
<circle cx="129.5" cy="297.1" r="1.55" fill="#c00024"/>
<circle cx="132.6" cy="331.7" r="1.55" fill="#c00024"/>
<circle cx="127.3" cy="293.8" r="1.55" fill="#c00024"/>
<circle cx="128.4" cy="303.4" r="1.55" fill="#c00024"/>
<circle cx="129.9" cy="326.2" r="1.55" fill="#c00024"/>
<circle cx="130.0" cy="318.3" r="1.55" fill="#c00024"/>
<circle cx="131.1" cy="292.0" r="1.55" fill="#c00024"/>
<circle cx="131.0" cy="328.9" r="1.55" fill="#c00024"/>
<circle cx="132.1" cy="297.1" r="1.55" fill="#c00024"/>
<circle cx="132.4" cy="306.9" r="1.55" fill="#c00024"/>
<circle cx="130.3" cy="341.1" r="1.55" fill="#c00024"/>
<circle cx="130.5" cy="335.0" r="1.55" fill="#c00024"/>
<circle cx="132.7" cy="315.0" r="1.55" fill="#c00024"/>
<circle cx="122.1" cy="358.2" r="1.55" fill="#c00024"/>
<circle cx="122.5" cy="361.3" r="1.55" fill="#c00024"/>
<circle cx="124.1" cy="377.0" r="1.55" fill="#c00024"/>
<circle cx="122.6" cy="350.0" r="1.55" fill="#c00024"/>
<circle cx="126.0" cy="346.0" r="1.55" fill="#c00024"/>
<circle cx="115.7" cy="352.1" r="1.55" fill="#c00024"/>
<circle cx="119.6" cy="347.3" r="1.55" fill="#c00024"/>
<circle cx="117.3" cy="328.3" r="1.55" fill="#c00024"/>
<circle cx="117.1" cy="341.3" r="1.55" fill="#c00024"/>
<circle cx="120.1" cy="322.9" r="1.55" fill="#c00024"/>
<circle cx="118.0" cy="335.8" r="1.55" fill="#c00024"/>
<circle cx="120.4" cy="335.7" r="1.55" fill="#c00024"/>
<circle cx="126.8" cy="366.1" r="1.55" fill="#0d4a80"/>
<circle cx="128.5" cy="372.3" r="1.55" fill="#0d4a80"/>
<circle cx="128.8" cy="377.1" r="1.55" fill="#0d4a80"/>
<circle cx="128.9" cy="374.9" r="1.55" fill="#0d4a80"/>
<circle cx="129.6" cy="360.4" r="1.55" fill="#0d4a80"/>
<circle cx="129.7" cy="387.6" r="1.55" fill="#0d4a80"/>
<circle cx="122.9" cy="372.0" r="1.55" fill="#0d4a80"/>
<circle cx="123.0" cy="346.0" r="1.55" fill="#0d4a80"/>
<circle cx="124.3" cy="370.5" r="1.55" fill="#0d4a80"/>
<circle cx="124.8" cy="352.6" r="1.55" fill="#0d4a80"/>
<circle cx="125.9" cy="373.6" r="1.55" fill="#0d4a80"/>
<circle cx="126.1" cy="347.9" r="1.55" fill="#0d4a80"/>
<circle cx="124.8" cy="362.6" r="1.55" fill="#0d4a80"/>
<circle cx="125.0" cy="362.3" r="1.55" fill="#0d4a80"/>
<circle cx="126.6" cy="363.4" r="1.55" fill="#0d4a80"/>
<circle cx="133.9" cy="384.3" r="1.55" fill="#0d4a80"/>
<circle cx="135.6" cy="363.1" r="1.55" fill="#0d4a80"/>
<circle cx="135.7" cy="362.3" r="1.55" fill="#0d4a80"/>
<circle cx="136.8" cy="357.4" r="1.55" fill="#0d4a80"/>
<circle cx="131.1" cy="359.0" r="1.55" fill="#0d4a80"/>
<circle cx="131.6" cy="361.5" r="1.55" fill="#0d4a80"/>
<circle cx="131.9" cy="349.1" r="1.55" fill="#0d4a80"/>
<circle cx="133.0" cy="361.5" r="1.55" fill="#0d4a80"/>
<circle cx="134.4" cy="355.6" r="1.55" fill="#0d4a80"/>
<circle cx="134.4" cy="350.9" r="1.55" fill="#0d4a80"/>
<circle cx="132.3" cy="358.2" r="1.55" fill="#0d4a80"/>
<circle cx="133.3" cy="370.4" r="1.55" fill="#0d4a80"/>
<circle cx="134.6" cy="362.1" r="1.55" fill="#0d4a80"/>
<circle cx="124.9" cy="355.5" r="1.55" fill="#0d4a80"/>
<circle cx="125.8" cy="353.3" r="1.55" fill="#0d4a80"/>
<circle cx="125.9" cy="385.9" r="1.55" fill="#0d4a80"/>
<circle cx="139.0" cy="346.0" r="1.55" fill="#0d4a80"/>
<circle cx="139.1" cy="384.0" r="1.55" fill="#0d4a80"/>
<circle cx="139.8" cy="358.9" r="1.55" fill="#0d4a80"/>
<circle cx="141.9" cy="357.7" r="1.55" fill="#0d4a80"/>
<circle cx="142.3" cy="362.4" r="1.55" fill="#0d4a80"/>
<circle cx="123.2" cy="360.4" r="1.55" fill="#0d4a80"/>
<circle cx="123.3" cy="365.8" r="1.55" fill="#0d4a80"/>
<circle cx="123.7" cy="338.4" r="1.55" fill="#0d4a80"/>
<circle cx="124.5" cy="342.7" r="1.55" fill="#0d4a80"/>
<circle cx="124.9" cy="353.3" r="1.55" fill="#0d4a80"/>
<circle cx="126.2" cy="390.4" r="1.55" fill="#0d4a80"/>
<circle cx="115.7" cy="407.8" r="1.5" fill="#0d4a80"/>
<circle cx="118.1" cy="410.9" r="1.5" fill="#0d4a80"/>
<circle cx="122.8" cy="407.9" r="1.5" fill="#0d4a80"/>
<circle cx="127.1" cy="403.0" r="1.5" fill="#0d4a80"/>
<circle cx="127.1" cy="414.9" r="1.5" fill="#0d4a80"/>
<circle cx="113.0" cy="393.4" r="1.5" fill="#0d4a80"/>
<circle cx="122.4" cy="393.4" r="1.5" fill="#0d4a80"/>
<circle cx="136.5" cy="394.0" r="1.5" fill="#0d4a80"/>
<circle cx="138.5" cy="400.8" r="1.5" fill="#0d4a80"/>
<path d="M125.8,366.4 L126.2,366.6 L126.8,367.0 L127.7,367.7 L129.0,368.5 L130.6,369.6 L132.5,370.9 L134.7,372.3 L137.2,374.0 L140.9,377.4 L145.9,382.5 L152.1,389.3 L159.6,397.7 L168.3,407.9 L178.2,419.7 L189.3,433.2 L201.7,448.4 L213.0,461.8 L223.2,473.5 L232.3,483.4 L240.4,491.5 L247.4,497.8 L253.3,502.4 L258.1,505.2 L261.9,506.2 L265.2,507.1 L268.0,507.9 L270.3,508.5 L272.2,509.0 L273.6,509.4 L274.5,509.7 L275.0,509.8" fill="none" stroke="#2a5c86" stroke-width="0.8" stroke-opacity="0.85"/>
<path d="M127.7,342.7 L128.0,342.9 L128.5,343.2 L129.4,343.6 L130.5,344.2 L132.0,344.9 L133.7,345.8 L135.7,346.8 L138.0,348.0 L140.4,349.3 L142.9,350.9 L145.4,352.7 L148.1,354.6 L150.9,356.8 L153.8,359.2 L156.7,361.8 L159.8,364.7 L162.6,367.3 L165.2,369.7 L167.7,371.9 L169.8,373.9 L171.8,375.7 L173.6,377.3 L175.1,378.7 L176.4,379.9 L177.6,381.0 L178.7,382.1 L179.8,383.0 L180.7,383.9 L181.6,384.7 L182.3,385.4 L182.9,386.0 L183.5,386.6 L184.1,387.1 L184.6,387.6 L185.1,388.2 L185.7,388.7 L186.2,389.2 L186.7,389.8 L187.2,390.3 L187.7,390.9 L188.2,391.4 L188.7,391.9 L189.2,392.5 L189.7,393.0 L190.1,393.5 L190.6,394.1 L191.1,394.6 L191.5,395.2 L191.9,395.7 L192.4,396.2 L192.8,396.8 L193.2,397.3 L193.6,397.9 L194.1,398.4 L194.5,398.9 L194.9,399.5 L195.2,400.0 L195.6,400.6 L196.0,401.1 L196.4,401.6 L196.7,402.2 L197.1,402.7 L197.4,403.3 L197.8,403.8 L198.1,404.4 L198.5,404.9 L198.8,405.4 L199.1,406.0 L199.4,406.5 L199.7,407.1 L200.0,407.6 L200.3,408.2 L201.3,410.2 L203.0,413.7 L205.4,418.7 L208.6,425.2 L212.5,433.2 L217.0,442.7 L222.3,453.7 L228.4,466.2 L233.6,477.1 L238.1,486.4 L241.9,494.2 L244.9,500.4 L247.1,505.1 L248.6,508.2 L249.4,509.8" fill="none" stroke="#b41840" stroke-width="0.8" stroke-opacity="0.85"/>
<path d="M128.4,317.2 L128.7,317.3 L129.3,317.5 L130.1,317.7 L131.2,318.0 L132.6,318.4 L134.2,318.8 L136.1,319.3 L138.3,319.9 L141.3,321.0 L145.0,322.4 L149.5,324.4 L154.8,326.7 L160.9,329.5 L167.7,332.8 L175.3,336.4 L183.7,340.6 L191.8,344.6 L199.8,348.5 L207.5,352.3 L215.0,356.0 L222.3,359.6 L229.3,363.0 L236.2,366.4 L242.8,369.7 L248.7,372.6 L253.8,375.1 L258.1,377.3 L261.7,379.0 L264.6,380.5 L266.6,381.5 L267.9,382.2 L268.5,382.5 L269.1,382.8 L269.6,383.1 L270.1,383.4 L270.7,383.7 L271.2,384.1 L271.7,384.4 L272.2,384.8 L272.7,385.1 L273.2,385.4 L273.7,385.8 L274.2,386.1 L274.7,386.5 L275.1,386.9 L275.6,387.2 L276.1,387.6 L276.5,388.0 L276.9,388.4 L277.4,388.8 L277.8,389.2 L278.2,389.6 L278.6,390.0 L279.1,390.4 L279.5,390.8 L279.9,391.2 L280.2,391.6 L280.6,392.1 L281.0,392.5 L281.4,392.9 L281.7,393.4 L282.1,393.8 L282.4,394.3 L282.8,394.7 L283.1,395.2 L283.5,395.6 L283.8,396.1 L284.1,396.6 L284.4,397.0 L284.7,397.5 L285.0,398.0 L285.3,398.5 L286.4,400.6 L288.4,404.4 L291.2,409.9 L294.9,417.0 L299.4,425.7 L304.8,436.1 L311.0,448.2 L318.1,461.9 L324.3,473.8 L329.6,484.1 L334.0,492.7 L337.5,499.5 L340.2,504.7 L341.9,508.1 L342.8,509.8" fill="none" stroke="#b41840" stroke-width="0.8" stroke-opacity="0.85"/>
<path d="M129.8,384.4 L130.0,384.5 L130.5,384.7 L131.3,384.9 L132.3,385.3 L133.6,385.7 L135.1,386.2 L136.9,386.9 L138.9,387.6 L142.2,389.1 L146.8,391.6 L152.7,394.9 L159.9,399.2 L168.4,404.3 L178.2,410.3 L189.3,417.1 L201.7,424.9 L213.4,431.9 L224.4,438.1 L234.7,443.6 L244.3,448.4 L253.2,452.4 L261.5,455.6 L269.1,458.1 L275.9,459.9 L283.2,461.9 L290.9,464.1 L298.9,466.5 L307.3,469.2 L316.2,472.1 L325.4,475.3 L335.0,478.7 L345.0,482.3 L354.3,485.7 L362.9,488.9 L370.8,491.9 L378.0,494.6 L384.5,497.1 L390.2,499.4 L395.3,501.5 L399.7,503.3 L403.5,504.9 L406.8,506.3 L409.5,507.5 L411.7,508.4 L413.4,509.1 L414.5,509.6 L415.0,509.8" fill="none" stroke="#2a5c86" stroke-width="0.8" stroke-opacity="0.85"/>
<path d="M142.5,364.5 L142.5,364.6 L142.6,364.7 L142.8,365.0 L143.0,365.3 L143.3,365.7 L143.6,366.2 L144.0,366.7 L144.5,367.3 L145.0,368.3 L145.7,369.6 L146.4,371.1 L147.3,373.0 L148.3,375.3 L149.4,377.8 L150.7,380.6 L152.0,383.8 L153.3,386.9 L154.7,390.1 L156.0,393.2 L157.3,396.3 L158.7,399.4 L160.0,402.5 L161.3,405.6 L162.7,408.7 L164.0,411.7 L165.3,414.8 L166.7,417.8 L168.0,420.8 L169.3,423.8 L170.7,426.8 L172.0,429.8 L173.3,432.8 L174.7,435.7 L176.0,438.7 L177.3,441.6 L178.7,444.5 L180.0,447.5 L181.3,450.4 L182.7,453.2 L184.0,456.1 L185.3,459.0 L186.7,461.8 L188.0,464.7 L189.3,467.5 L190.7,470.3 L192.0,473.1 L193.3,475.9 L194.7,478.7 L196.0,481.4 L197.3,484.2 L198.7,486.9 L200.0,489.6 L201.3,492.4 L202.7,495.1 L204.0,497.7 L205.3,500.4 L206.5,502.8 L207.5,504.8 L208.3,506.5 L209.0,507.8 L209.5,508.8 L209.8,509.5 L210.0,509.8" fill="none" stroke="#2a5c86" stroke-width="0.8" stroke-opacity="0.85"/>
<path d="M134.1,342.6 L134.3,342.7 L134.7,342.8 L135.2,343.0 L136.0,343.3 L136.9,343.7 L138.0,344.1 L139.3,344.5 L140.8,345.1 L143.6,346.6 L147.9,349.1 L153.4,352.5 L160.4,356.9 L168.6,362.3 L178.3,368.6 L189.3,375.9 L201.7,384.1 L213.8,392.0 L225.8,399.6 L237.5,406.8 L249.0,413.7 L260.3,420.2 L271.3,426.4 L282.2,432.2 L292.8,437.8 L303.1,443.4 L312.9,449.2 L322.4,455.1 L331.5,461.1 L340.2,467.3 L348.6,473.6 L356.6,480.1 L364.1,486.7 L370.8,492.5 L376.5,497.4 L381.2,501.6 L385.0,504.9 L387.9,507.3 L389.8,509.0 L390.7,509.8" fill="none" stroke="#b41840" stroke-width="0.8" stroke-opacity="0.85"/>
<path d="M133.8,314.0 L134.0,314.1 L134.4,314.2 L134.9,314.4 L135.7,314.7 L136.6,315.0 L137.8,315.5 L139.1,316.0 L140.7,316.5 L143.5,318.1 L147.8,320.6 L153.4,324.0 L160.3,328.5 L168.6,333.9 L178.3,340.2 L189.3,347.6 L201.7,355.9 L213.8,363.8 L225.8,371.3 L237.5,378.3 L249.0,384.9 L260.3,391.1 L271.3,396.8 L282.2,402.2 L292.8,407.0 L303.1,412.1 L313.1,417.4 L322.8,422.9 L332.2,428.6 L341.2,434.5 L350.0,440.6 L358.4,446.9 L366.6,453.3 L374.8,459.5 L383.0,465.4 L391.4,471.1 L399.8,476.4 L408.3,481.5 L416.9,486.3 L425.5,490.8 L434.3,495.0 L441.9,498.7 L448.4,501.9 L453.9,504.5 L458.3,506.6 L461.5,508.2 L463.7,509.3 L464.8,509.8" fill="none" stroke="#b41840" stroke-width="0.8" stroke-opacity="0.85"/>
<path d="M129.9,302.4 L130.1,302.5 L130.6,302.7 L131.4,302.9 L132.4,303.2 L133.6,303.5 L135.2,303.9 L136.9,304.4 L138.9,305.0 L141.6,305.9 L144.8,307.3 L148.7,309.0 L153.2,311.0 L158.3,313.5 L164.0,316.3 L170.3,319.5 L177.2,323.0 L183.9,326.5 L190.4,329.8 L196.7,333.0 L202.8,336.2 L208.6,339.2 L214.2,342.0 L219.7,344.8 L224.8,347.5 L229.5,349.9 L233.5,351.9 L236.9,353.7 L239.8,355.2 L242.1,356.4 L243.8,357.3 L244.9,358.0 L245.5,358.3 L246.1,358.6 L246.6,359.0 L247.1,359.3 L247.7,359.7 L248.2,360.1 L248.7,360.4 L249.2,360.8 L249.7,361.2 L250.2,361.6 L250.7,362.0 L251.2,362.4 L251.7,362.9 L252.1,363.3 L252.6,363.7 L253.1,364.2 L253.5,364.6 L253.9,365.1 L254.4,365.5 L254.8,366.0 L255.2,366.5 L255.6,367.0 L256.1,367.5 L256.5,368.0 L256.9,368.5 L257.2,369.0 L257.6,369.6 L258.0,370.1 L258.4,370.6 L258.7,371.2 L259.1,371.8 L259.4,372.3 L259.8,372.9 L260.1,373.5 L260.5,374.1 L260.8,374.7 L261.1,375.3 L261.4,375.9 L261.7,376.5 L262.0,377.1 L262.3,377.8 L263.3,380.4 L265.2,384.9 L267.7,391.4 L271.1,399.8 L275.2,410.2 L280.0,422.5 L285.7,436.8 L292.0,453.0 L297.6,467.2 L302.4,479.4 L306.4,489.5 L309.6,497.6 L312.0,503.7 L313.6,507.8 L314.4,509.8" fill="none" stroke="#b41840" stroke-width="0.8" stroke-opacity="0.85"/>
<path d="M125.9,366.2 L126.2,366.3 L126.9,366.6 L127.8,366.9 L129.1,367.4 L130.6,368.0 L132.5,368.8 L134.7,369.6 L137.2,370.6 L141.0,372.5 L145.9,375.4 L152.1,379.3 L159.6,384.2 L168.3,390.0 L178.2,396.8 L189.3,404.5 L201.7,413.3 L213.5,421.4 L224.8,429.0 L235.6,436.1 L245.9,442.6 L255.6,448.5 L264.8,453.9 L273.4,458.8 L281.6,463.0 L289.6,467.3 L297.7,471.5 L305.7,475.6 L313.6,479.8 L321.5,483.8 L329.3,487.9 L337.1,491.9 L344.9,495.9 L351.7,499.4 L357.5,502.3 L362.3,504.8 L366.2,506.8 L369.1,508.3 L371.0,509.3 L372.0,509.8" fill="none" stroke="#2a5c86" stroke-width="0.8" stroke-opacity="0.85"/>
<path d="M133.2,364.2 L133.4,364.3 L133.8,364.5 L134.4,364.8 L135.2,365.3 L136.2,365.8 L137.4,366.4 L138.8,367.2 L140.4,368.0 L143.4,370.3 L147.7,373.9 L153.3,378.9 L160.3,385.4 L168.6,393.2 L178.3,402.4 L189.3,413.0 L201.7,425.0 L213.7,436.2 L225.2,446.5 L236.4,456.0 L247.1,464.7 L257.5,472.5 L267.4,479.5 L276.9,485.7 L286.1,491.1 L294.0,495.8 L300.9,499.8 L306.6,503.1 L311.2,505.8 L314.6,507.8 L316.9,509.1 L318.0,509.8" fill="none" stroke="#2a5c86" stroke-width="0.8" stroke-opacity="0.85"/>
<path d="M134.9,339.8 L135.1,339.8 L135.4,340.0 L136.0,340.2 L136.6,340.4 L137.5,340.8 L138.6,341.1 L139.8,341.6 L141.1,342.1 L142.9,343.0 L145.0,344.1 L147.5,345.6 L150.4,347.4 L153.6,349.4 L157.1,351.8 L161.1,354.5 L165.4,357.5 L169.5,360.3 L173.4,363.0 L177.0,365.6 L180.5,368.0 L183.7,370.2 L186.7,372.3 L189.5,374.2 L192.0,376.0 L194.3,377.6 L196.4,379.1 L198.2,380.3 L199.8,381.4 L201.1,382.4 L202.1,383.1 L202.9,383.7 L203.5,384.1 L204.1,384.5 L204.6,385.0 L205.1,385.4 L205.7,385.8 L206.2,386.2 L206.7,386.7 L207.2,387.1 L207.7,387.5 L208.2,388.0 L208.7,388.4 L209.2,388.8 L209.7,389.3 L210.1,389.7 L210.6,390.2 L211.1,390.6 L211.5,391.1 L211.9,391.5 L212.4,392.0 L212.8,392.4 L213.2,392.9 L213.6,393.4 L214.1,393.8 L214.5,394.3 L214.9,394.8 L215.2,395.2 L215.6,395.7 L216.0,396.2 L216.4,396.7 L216.7,397.2 L217.1,397.6 L217.4,398.1 L217.8,398.6 L218.1,399.1 L218.5,399.6 L218.8,400.1 L219.1,400.6 L219.4,401.1 L219.7,401.6 L220.0,402.1 L220.3,402.6 L221.4,404.7 L223.3,408.4 L226.0,413.6 L229.5,420.5 L233.8,428.9 L238.9,438.9 L244.8,450.5 L251.5,463.7 L257.4,475.2 L262.4,485.1 L266.6,493.3 L270.0,499.9 L272.5,504.9 L274.2,508.2 L275.0,509.8" fill="none" stroke="#b41840" stroke-width="0.8" stroke-opacity="0.85"/>
<path d="M129.3,339.1 L129.5,339.2 L130.1,339.4 L130.8,339.8 L131.9,340.2 L133.2,340.7 L134.8,341.4 L136.6,342.1 L138.7,343.0 L142.1,344.9 L146.7,347.9 L152.7,351.9 L159.9,356.9 L168.4,363.0 L178.2,370.2 L189.3,378.4 L201.7,387.6 L213.4,396.1 L224.4,403.9 L234.7,410.9 L244.3,417.1 L253.2,422.6 L261.5,427.4 L269.1,431.4 L275.9,434.6 L283.5,438.1 L291.8,441.9 L300.8,445.9 L310.5,450.1 L320.9,454.6 L332.0,459.4 L343.8,464.4 L356.2,469.6 L368.0,474.6 L379.0,479.2 L389.2,483.5 L398.8,487.5 L407.5,491.1 L415.5,494.5 L422.8,497.5 L429.2,500.3 L434.9,502.6 L439.8,504.7 L443.9,506.4 L447.1,507.8 L449.6,508.8 L451.2,509.5 L452.0,509.8" fill="none" stroke="#b41840" stroke-width="0.8" stroke-opacity="0.85"/>
<path d="M141.9,417.3 L141.9,417.4 L142.1,417.6 L142.2,417.9 L142.5,418.3 L142.8,418.8 L143.2,419.4 L143.7,420.1 L144.2,420.9 L144.7,421.8 L145.3,422.9 L145.9,424.2 L146.5,425.5 L147.2,427.0 L147.9,428.7 L148.6,430.5 L149.4,432.4 L150.1,434.4 L150.9,436.3 L151.6,438.2 L152.4,440.1 L153.1,442.0 L153.9,443.9 L154.6,445.8 L155.4,447.7 L156.1,449.6 L156.9,451.5 L157.6,453.3 L158.4,455.2 L159.1,457.0 L159.9,458.9 L160.6,460.7 L161.4,462.5 L162.1,464.3 L162.9,466.1 L163.6,467.9 L164.4,469.7 L165.1,471.5 L165.9,473.3 L166.6,475.1 L167.4,476.8 L168.1,478.6 L168.9,480.3 L169.6,482.1 L170.4,483.8 L171.1,485.5 L171.9,487.3 L172.6,489.0 L173.4,490.7 L174.1,492.4 L174.9,494.1 L175.6,495.7 L176.4,497.4 L177.1,499.1 L177.9,500.7 L178.6,502.4 L179.4,504.0 L180.0,505.5 L180.6,506.7 L181.1,507.7 L181.4,508.6 L181.7,509.2 L181.9,509.6 L182.0,509.8" fill="none" stroke="#2a5c86" stroke-width="0.8" stroke-opacity="0.85"/>
<path d="M128.2,334.4 L128.4,334.5 L129.0,334.7 L129.8,335.0 L130.9,335.4 L132.3,335.9 L134.0,336.5 L136.0,337.3 L138.2,338.1 L141.7,339.9 L146.5,342.6 L152.5,346.2 L159.8,350.8 L168.4,356.4 L178.2,362.9 L189.3,370.3 L201.7,378.7 L213.8,386.7 L225.8,394.2 L237.5,401.4 L249.0,408.1 L260.3,414.5 L271.3,420.4 L282.2,425.9 L292.8,431.1 L303.3,436.5 L313.7,442.2 L324.0,448.3 L334.2,454.7 L344.3,461.3 L354.3,468.3 L364.1,475.6 L373.9,483.2 L382.4,489.9 L389.7,495.6 L395.8,500.3 L400.7,504.1 L404.3,506.9 L406.8,508.9 L408.0,509.8" fill="none" stroke="#b41840" stroke-width="0.8" stroke-opacity="0.85"/>
<path d="M132.7,363.4 L132.9,363.4 L133.3,363.6 L133.9,363.8 L134.7,364.1 L135.8,364.4 L137.0,364.9 L138.5,365.4 L140.2,366.0 L143.2,367.5 L147.5,369.8 L153.2,373.1 L160.2,377.3 L168.6,382.5 L178.3,388.5 L189.3,395.4 L201.7,403.2 L213.8,410.5 L225.8,417.3 L237.5,423.6 L249.0,429.3 L260.3,434.6 L271.3,439.3 L282.2,443.5 L292.8,447.1 L303.2,451.1 L313.3,455.4 L323.2,460.1 L332.9,465.0 L342.3,470.3 L351.4,475.9 L360.4,481.8 L369.0,488.0 L376.6,493.5 L383.1,498.1 L388.6,502.0 L392.9,505.1 L396.1,507.5 L398.3,509.0 L399.4,509.8" fill="none" stroke="#2a5c86" stroke-width="0.8" stroke-opacity="0.85"/>
<path d="M138.6,411.4 L138.7,411.6 L138.9,412.0 L139.3,412.6 L139.7,413.4 L140.3,414.5 L141.0,415.7 L141.8,417.2 L142.7,418.9 L143.6,420.6 L144.5,422.3 L145.3,424.1 L146.1,425.9 L146.9,427.7 L147.6,429.6 L148.2,431.5 L148.9,433.4 L149.5,435.3 L150.2,437.2 L150.8,439.1 L151.4,441.0 L152.1,442.9 L152.7,444.7 L153.4,446.6 L154.0,448.5 L154.6,450.3 L155.3,452.2 L155.9,454.0 L156.6,455.8 L157.2,457.7 L157.8,459.5 L158.5,461.3 L159.1,463.1 L159.8,464.9 L160.4,466.7 L161.0,468.5 L161.7,470.2 L162.3,472.0 L162.9,473.7 L163.6,475.5 L164.2,477.2 L164.9,479.0 L165.5,480.7 L166.1,482.4 L166.8,484.1 L167.4,485.8 L168.1,487.5 L168.7,489.2 L169.3,490.9 L170.0,492.6 L170.6,494.3 L171.3,495.9 L171.9,497.6 L172.5,499.2 L173.2,500.9 L173.8,502.5 L174.5,504.1 L175.0,505.5 L175.5,506.8 L175.9,507.8 L176.2,508.6 L176.5,509.2 L176.6,509.6 L176.7,509.8" fill="none" stroke="#2a5c86" stroke-width="0.8" stroke-opacity="0.85"/>
<path d="M130.5,365.0 L130.8,365.1 L131.2,365.3 L132.0,365.5 L132.9,365.8 L134.1,366.2 L135.6,366.7 L137.3,367.2 L139.2,367.8 L142.5,369.3 L147.0,371.5 L152.9,374.6 L160.0,378.5 L168.5,383.3 L178.2,388.8 L189.3,395.2 L201.7,402.4 L213.8,409.1 L225.8,415.2 L237.5,420.9 L249.0,426.0 L260.3,430.5 L271.3,434.6 L282.2,438.1 L292.8,441.1 L303.4,444.6 L313.9,448.7 L324.4,453.3 L334.8,458.4 L345.1,464.1 L355.4,470.3 L365.7,477.1 L375.8,484.3 L384.8,490.7 L392.4,496.2 L398.8,500.7 L403.9,504.3 L407.7,507.1 L410.2,508.9 L411.5,509.8" fill="none" stroke="#2a5c86" stroke-width="0.8" stroke-opacity="0.85"/>
<path d="M138.4,359.4 L138.5,359.5 L138.7,359.7 L139.1,360.0 L139.6,360.4 L140.2,360.9 L140.9,361.5 L141.7,362.2 L142.7,363.0 L143.8,364.1 L145.1,365.5 L146.5,367.3 L148.2,369.3 L150.0,371.6 L151.9,374.3 L154.1,377.2 L156.4,380.5 L158.7,383.7 L161.0,386.9 L163.3,390.1 L165.6,393.3 L167.9,396.5 L170.2,399.7 L172.5,402.8 L174.9,406.0 L177.2,409.1 L179.5,412.3 L181.8,415.4 L184.1,418.5 L186.4,421.6 L188.7,424.6 L191.0,427.7 L193.3,430.7 L195.6,433.8 L197.9,436.8 L200.2,439.8 L202.6,442.8 L204.9,445.8 L207.2,448.8 L209.5,451.7 L211.8,454.7 L214.1,457.6 L216.4,460.5 L218.7,463.5 L221.0,466.4 L223.3,469.2 L225.6,472.1 L227.9,475.0 L230.3,477.8 L232.6,480.7 L234.9,483.5 L237.2,486.3 L239.5,489.1 L241.8,491.9 L244.1,494.7 L246.4,497.4 L248.7,500.2 L250.7,502.6 L252.5,504.6 L253.9,506.4 L255.1,507.7 L255.9,508.8 L256.5,509.5 L256.8,509.8" fill="none" stroke="#2a5c86" stroke-width="0.8" stroke-opacity="0.85"/>
<path d="M137.5,407.1 L137.7,407.2 L137.9,407.5 L138.3,407.9 L138.9,408.5 L139.5,409.2 L140.3,410.1 L141.2,411.1 L142.3,412.2 L143.4,413.5 L144.5,414.9 L145.6,416.4 L146.7,418.0 L147.8,419.8 L148.9,421.6 L150.1,423.6 L151.3,425.7 L152.4,427.8 L153.6,429.9 L154.8,432.0 L156.0,434.1 L157.1,436.2 L158.3,438.2 L159.5,440.3 L160.6,442.3 L161.8,444.4 L163.0,446.4 L164.1,448.4 L165.3,450.4 L166.5,452.4 L167.7,454.4 L168.8,456.4 L170.0,458.4 L171.2,460.4 L172.3,462.4 L173.5,464.3 L174.7,466.3 L175.9,468.2 L177.0,470.1 L178.2,472.1 L179.4,474.0 L180.5,475.9 L181.7,477.8 L182.9,479.7 L184.1,481.6 L185.2,483.4 L186.4,485.3 L187.6,487.2 L188.7,489.0 L189.9,490.9 L191.1,492.7 L192.2,494.5 L193.4,496.3 L194.6,498.2 L195.8,500.0 L196.9,501.8 L198.1,503.5 L199.1,505.1 L200.0,506.4 L200.7,507.6 L201.3,508.5 L201.8,509.1 L202.1,509.6 L202.2,509.8" fill="none" stroke="#2a5c86" stroke-width="0.8" stroke-opacity="0.85"/>
<path d="M140.8,375.7 L140.9,375.8 L141.0,376.1 L141.3,376.4 L141.6,376.9 L142.0,377.5 L142.5,378.2 L143.1,379.0 L143.7,380.0 L144.4,381.2 L145.2,382.6 L146.1,384.2 L147.0,386.1 L148.0,388.3 L149.0,390.7 L150.1,393.3 L151.3,396.1 L152.5,399.0 L153.7,401.8 L154.9,404.6 L156.0,407.4 L157.2,410.2 L158.4,413.0 L159.6,415.8 L160.8,418.6 L161.9,421.3 L163.1,424.1 L164.3,426.8 L165.5,429.5 L166.7,432.3 L167.9,435.0 L169.0,437.6 L170.2,440.3 L171.4,443.0 L172.6,445.7 L173.8,448.3 L174.9,450.9 L176.1,453.6 L177.3,456.2 L178.5,458.8 L179.7,461.4 L180.8,463.9 L182.0,466.5 L183.2,469.1 L184.4,471.6 L185.6,474.2 L186.8,476.7 L187.9,479.2 L189.1,481.7 L190.3,484.2 L191.5,486.7 L192.7,489.2 L193.8,491.6 L195.0,494.1 L196.2,496.5 L197.4,498.9 L198.6,501.3 L199.6,503.5 L200.5,505.3 L201.2,506.8 L201.8,508.0 L202.3,508.9 L202.6,509.5 L202.7,509.8" fill="none" stroke="#2a5c86" stroke-width="0.8" stroke-opacity="0.85"/>
<path d="M135.6,356.7 L135.8,356.8 L136.1,356.9 L136.6,357.2 L137.3,357.5 L138.1,357.9 L139.0,358.4 L140.2,359.0 L141.5,359.7 L144.1,361.7 L148.2,365.1 L153.7,369.8 L160.5,375.9 L168.7,383.4 L178.3,392.2 L189.3,402.3 L201.7,413.9 L213.4,424.4 L224.4,433.9 L234.7,442.4 L244.3,449.9 L253.2,456.4 L261.5,461.9 L269.1,466.4 L275.9,469.8 L282.7,473.3 L289.2,476.8 L295.6,480.3 L301.9,483.7 L308.0,487.2 L313.9,490.7 L319.7,494.2 L325.3,497.6 L330.2,500.7 L334.5,503.3 L338.0,505.5 L340.8,507.2 L342.9,508.5 L344.3,509.4 L345.0,509.8" fill="none" stroke="#b41840" stroke-width="0.8" stroke-opacity="0.85"/>
<path d="M131.2,377.3 L131.4,377.4 L131.9,377.7 L132.6,378.1 L133.5,378.6 L134.7,379.3 L136.1,380.1 L137.7,381.1 L139.5,382.2 L142.7,384.8 L147.2,388.9 L153.0,394.6 L160.1,401.7 L168.5,410.4 L178.3,420.6 L189.3,432.4 L201.7,445.6 L213.1,457.5 L223.6,468.0 L233.0,477.1 L241.6,484.8 L249.1,491.2 L255.8,496.2 L261.4,499.8 L266.1,502.0 L270.2,504.0 L273.7,505.6 L276.6,507.0 L279.0,508.1 L280.7,509.0 L281.9,509.5 L282.5,509.8" fill="none" stroke="#2a5c86" stroke-width="0.8" stroke-opacity="0.85"/>
<path d="M128.6,337.6 L128.9,337.7 L129.4,337.9 L130.2,338.2 L131.3,338.6 L132.7,339.1 L134.3,339.7 L136.2,340.4 L138.4,341.2 L141.8,342.9 L146.6,345.6 L152.6,349.2 L159.8,353.7 L168.4,359.2 L178.2,365.6 L189.3,372.9 L201.7,381.1 L213.8,389.0 L225.8,396.6 L237.5,403.8 L249.0,410.6 L260.3,417.1 L271.3,423.2 L282.2,429.0 L292.8,434.4 L303.3,440.0 L313.5,445.9 L323.6,451.9 L333.5,458.1 L343.2,464.6 L352.8,471.2 L362.2,478.1 L371.3,485.1 L379.4,491.3 L386.3,496.6 L392.0,501.0 L396.6,504.5 L400.1,507.2 L402.4,508.9 L403.5,509.8" fill="none" stroke="#b41840" stroke-width="0.8" stroke-opacity="0.85"/>
<path d="M139.6,392.7 L139.7,392.8 L139.9,393.1 L140.2,393.6 L140.6,394.2 L141.1,394.9 L141.7,395.8 L142.4,396.9 L143.2,398.1 L144.0,399.4 L144.9,400.9 L145.7,402.6 L146.6,404.4 L147.5,406.4 L148.5,408.5 L149.4,410.8 L150.4,413.2 L151.4,415.6 L152.3,418.0 L153.3,420.4 L154.3,422.8 L155.3,425.2 L156.2,427.6 L157.2,429.9 L158.2,432.3 L159.2,434.6 L160.1,437.0 L161.1,439.3 L162.1,441.6 L163.1,443.9 L164.0,446.2 L165.0,448.5 L166.0,450.8 L167.0,453.0 L167.9,455.3 L168.9,457.5 L169.9,459.8 L170.9,462.0 L171.8,464.2 L172.8,466.4 L173.8,468.6 L174.8,470.8 L175.7,473.0 L176.7,475.2 L177.7,477.4 L178.7,479.5 L179.6,481.7 L180.6,483.8 L181.6,485.9 L182.6,488.0 L183.5,490.2 L184.5,492.3 L185.5,494.3 L186.5,496.4 L187.4,498.5 L188.4,500.6 L189.4,502.6 L190.2,504.4 L191.0,506.0 L191.6,507.2 L192.1,508.3 L192.4,509.0 L192.7,509.5 L192.8,509.8" fill="none" stroke="#2a5c86" stroke-width="0.8" stroke-opacity="0.85"/>
<path d="M124.1,354.8 L124.4,354.9 L125.1,355.2 L126.1,355.6 L127.5,356.2 L129.2,356.9 L131.3,357.8 L133.7,358.8 L136.4,360.0 L140.3,362.2 L145.5,365.4 L151.9,369.7 L159.4,375.0 L168.2,381.3 L178.1,388.7 L189.3,397.2 L201.7,406.6 L213.4,415.4 L224.4,423.5 L234.7,430.8 L244.3,437.4 L253.2,443.3 L261.5,448.5 L269.1,453.0 L275.9,456.8 L283.2,460.7 L290.9,464.8 L298.9,469.0 L307.3,473.4 L316.2,477.9 L325.4,482.6 L335.0,487.4 L345.0,492.4 L353.8,496.7 L361.2,500.5 L367.5,503.6 L372.5,506.1 L376.2,507.9 L378.8,509.2 L380.0,509.8" fill="none" stroke="#2a5c86" stroke-width="0.8" stroke-opacity="0.85"/>
<path d="M124.0,364.1 L124.4,364.2 L125.1,364.5 L126.1,364.8 L127.5,365.3 L129.2,366.0 L131.2,366.7 L133.6,367.6 L136.4,368.5 L140.3,370.4 L145.5,373.2 L151.8,376.8 L159.4,381.4 L168.2,386.8 L178.1,393.1 L189.3,400.3 L201.7,408.4 L213.8,415.9 L225.8,422.8 L237.5,429.1 L249.0,434.9 L260.3,440.1 L271.3,444.6 L282.2,448.6 L292.8,452.1 L303.0,455.8 L312.7,459.7 L321.9,464.0 L330.6,468.6 L338.9,473.5 L346.7,478.6 L354.1,484.0 L360.9,489.8 L367.0,494.8 L372.1,499.1 L376.4,502.6 L379.8,505.5 L382.4,507.7 L384.1,509.1 L385.0,509.8" fill="none" stroke="#2a5c86" stroke-width="0.8" stroke-opacity="0.85"/>
<path d="M139.5,366.3 L139.6,366.4 L139.8,366.7 L140.1,367.1 L140.5,367.7 L141.0,368.4 L141.6,369.3 L142.3,370.3 L143.2,371.4 L144.0,372.8 L145.0,374.4 L146.0,376.3 L147.0,378.4 L148.1,380.7 L149.3,383.2 L150.5,386.0 L151.8,389.1 L153.1,392.1 L154.4,395.1 L155.7,398.1 L157.0,401.1 L158.3,404.1 L159.6,407.0 L160.9,410.0 L162.1,412.9 L163.4,415.8 L164.7,418.8 L166.0,421.7 L167.3,424.6 L168.6,427.4 L169.9,430.3 L171.2,433.2 L172.5,436.0 L173.8,438.8 L175.1,441.7 L176.4,444.5 L177.6,447.3 L178.9,450.1 L180.2,452.8 L181.5,455.6 L182.8,458.4 L184.1,461.1 L185.4,463.8 L186.7,466.5 L188.0,469.3 L189.3,471.9 L190.6,474.6 L191.9,477.3 L193.1,480.0 L194.4,482.6 L195.7,485.2 L197.0,487.9 L198.3,490.5 L199.6,493.1 L200.9,495.7 L202.2,498.3 L203.5,500.8 L204.6,503.1 L205.6,505.0 L206.4,506.6 L207.0,507.9 L207.5,508.8 L207.8,509.5 L208.0,509.8" fill="none" stroke="#2a5c86" stroke-width="0.8" stroke-opacity="0.85"/>
<path d="M139.4,370.4 L139.5,370.5 L139.7,370.8 L140.0,371.2 L140.4,371.8 L140.9,372.5 L141.6,373.3 L142.3,374.3 L143.1,375.4 L144.0,376.7 L144.9,378.3 L146.0,380.1 L147.0,382.1 L148.2,384.4 L149.3,386.9 L150.6,389.6 L151.9,392.5 L153.2,395.5 L154.5,398.4 L155.8,401.3 L157.2,404.2 L158.5,407.1 L159.8,410.0 L161.1,412.8 L162.4,415.7 L163.7,418.5 L165.0,421.4 L166.3,424.2 L167.7,427.0 L169.0,429.8 L170.3,432.6 L171.6,435.4 L172.9,438.1 L174.2,440.9 L175.5,443.6 L176.8,446.3 L178.2,449.1 L179.5,451.8 L180.8,454.5 L182.1,457.2 L183.4,459.8 L184.7,462.5 L186.0,465.1 L187.3,467.8 L188.7,470.4 L190.0,473.0 L191.3,475.6 L192.6,478.2 L193.9,480.8 L195.2,483.4 L196.5,485.9 L197.8,488.5 L199.2,491.0 L200.5,493.6 L201.8,496.1 L203.1,498.6 L204.4,501.1 L205.6,503.3 L206.5,505.1 L207.4,506.7 L208.0,507.9 L208.5,508.9 L208.8,509.5 L209.0,509.8" fill="none" stroke="#2a5c86" stroke-width="0.8" stroke-opacity="0.85"/>
<path d="M141.5,371.5 L141.6,371.6 L141.8,371.8 L142.0,372.1 L142.2,372.5 L142.6,373.0 L143.0,373.6 L143.5,374.2 L144.0,375.0 L144.7,376.1 L145.4,377.4 L146.3,379.0 L147.2,380.9 L148.2,383.1 L149.3,385.5 L150.4,388.2 L151.7,391.2 L153.0,394.1 L154.3,397.1 L155.5,400.0 L156.8,403.0 L158.1,405.9 L159.3,408.8 L160.6,411.7 L161.9,414.6 L163.2,417.5 L164.4,420.3 L165.7,423.2 L167.0,426.0 L168.2,428.9 L169.5,431.7 L170.8,434.5 L172.1,437.3 L173.3,440.1 L174.6,442.9 L175.9,445.6 L177.1,448.4 L178.4,451.1 L179.7,453.8 L180.9,456.6 L182.2,459.3 L183.5,462.0 L184.8,464.6 L186.0,467.3 L187.3,470.0 L188.6,472.6 L189.8,475.2 L191.1,477.9 L192.4,480.5 L193.7,483.1 L194.9,485.7 L196.2,488.3 L197.5,490.8 L198.7,493.4 L200.0,495.9 L201.3,498.5 L202.6,501.0 L203.7,503.2 L204.6,505.1 L205.4,506.6 L206.0,507.9 L206.5,508.9 L206.8,509.5 L207.0,509.8" fill="none" stroke="#2a5c86" stroke-width="0.8" stroke-opacity="0.85"/>
<path d="M137.8,394.0 L137.9,394.2 L138.2,394.8 L138.6,395.5 L139.1,396.6 L139.7,397.9 L140.5,399.4 L141.4,401.2 L142.4,403.3 L143.4,405.4 L144.3,407.5 L145.2,409.6 L146.1,411.8 L146.9,413.9 L147.6,416.1 L148.3,418.4 L149.0,420.6 L149.7,422.8 L150.3,425.1 L151.0,427.3 L151.7,429.5 L152.3,431.7 L153.0,433.9 L153.7,436.0 L154.3,438.2 L155.0,440.4 L155.7,442.5 L156.3,444.7 L157.0,446.8 L157.7,448.9 L158.3,451.1 L159.0,453.2 L159.7,455.3 L160.3,457.4 L161.0,459.5 L161.7,461.5 L162.3,463.6 L163.0,465.7 L163.7,467.7 L164.3,469.8 L165.0,471.8 L165.7,473.8 L166.3,475.8 L167.0,477.8 L167.7,479.8 L168.3,481.8 L169.0,483.8 L169.7,485.8 L170.3,487.8 L171.0,489.7 L171.7,491.7 L172.3,493.6 L173.0,495.5 L173.7,497.4 L174.3,499.4 L175.0,501.3 L175.7,503.2 L176.2,504.8 L176.8,506.2 L177.2,507.4 L177.5,508.4 L177.8,509.1 L177.9,509.6 L178.0,509.8" fill="none" stroke="#2a5c86" stroke-width="0.8" stroke-opacity="0.85"/>
<path d="M130.7,367.6 L131.0,367.7 L131.4,367.8 L132.1,368.0 L133.1,368.3 L134.3,368.6 L135.7,369.0 L137.4,369.5 L139.3,370.1 L142.5,371.4 L147.1,373.4 L152.9,376.2 L160.0,379.7 L168.5,384.0 L178.2,389.0 L189.3,394.8 L201.7,401.2 L213.8,407.6 L225.8,413.8 L237.5,419.9 L249.0,425.8 L260.3,431.6 L271.3,437.3 L282.2,442.8 L292.8,448.2 L302.8,453.6 L312.0,458.9 L320.7,464.3 L328.6,469.7 L335.9,475.0 L342.5,480.4 L348.4,485.7 L353.6,491.1 L358.2,495.8 L362.2,499.8 L365.4,503.1 L368.1,505.8 L370.0,507.8 L371.3,509.1 L372.0,509.8" fill="none" stroke="#2a5c86" stroke-width="0.8" stroke-opacity="0.85"/>
<path d="M133.1,354.8 L133.3,354.9 L133.7,355.1 L134.3,355.4 L135.1,355.7 L136.1,356.2 L137.3,356.8 L138.7,357.5 L140.4,358.3 L143.3,360.3 L147.6,363.6 L153.3,368.2 L160.3,374.0 L168.6,381.1 L178.3,389.4 L189.3,399.0 L201.7,409.9 L213.8,420.0 L225.8,429.3 L237.5,437.9 L249.0,445.8 L260.3,452.8 L271.3,459.1 L282.2,464.7 L292.8,469.5 L302.8,474.1 L312.0,478.4 L320.7,482.5 L328.6,486.4 L335.9,490.0 L342.5,493.4 L348.4,496.6 L353.6,499.5 L358.2,502.1 L362.2,504.3 L365.4,506.1 L368.1,507.6 L370.0,508.7 L371.3,509.4 L372.0,509.8" fill="none" stroke="#b41840" stroke-width="0.8" stroke-opacity="0.85"/>
<path d="M129.9,304.2 L130.2,304.3 L130.7,304.5 L131.4,304.7 L132.4,305.1 L133.7,305.6 L135.2,306.1 L136.9,306.7 L139.0,307.5 L142.3,309.1 L146.9,311.7 L152.8,315.2 L160.0,319.6 L168.4,325.0 L178.2,331.2 L189.3,338.4 L201.7,346.6 L213.8,354.3 L225.8,361.8 L237.5,368.9 L249.0,375.6 L260.3,382.0 L271.3,388.1 L282.2,393.8 L292.8,399.2 L303.4,404.3 L313.8,409.3 L324.2,414.0 L334.5,418.4 L344.8,422.7 L354.9,426.7 L365.0,430.5 L375.0,434.0 L385.2,437.8 L395.6,441.8 L406.2,446.0 L417.0,450.4 L428.0,455.0 L439.2,459.9 L450.6,464.9 L462.2,470.2 L472.4,474.8 L481.1,478.7 L488.3,482.0 L494.1,484.7 L498.4,486.6 L501.4,487.9 L502.8,488.6" fill="none" stroke="#b41840" stroke-width="0.8" stroke-opacity="0.85"/>
<path d="M140.3,380.8 L140.4,380.9 L140.5,381.0 L140.8,381.3 L141.2,381.7 L141.6,382.2 L142.2,382.7 L142.8,383.4 L143.5,384.1 L144.3,385.1 L145.3,386.4 L146.3,387.9 L147.5,389.6 L148.7,391.7 L150.1,393.9 L151.6,396.5 L153.2,399.2 L154.8,402.0 L156.4,404.8 L158.0,407.5 L159.5,410.2 L161.1,413.0 L162.7,415.7 L164.3,418.4 L165.9,421.1 L167.5,423.8 L169.1,426.4 L170.7,429.1 L172.3,431.7 L173.9,434.4 L175.5,437.0 L177.1,439.6 L178.7,442.2 L180.3,444.8 L181.9,447.4 L183.5,450.0 L185.0,452.5 L186.6,455.1 L188.2,457.6 L189.8,460.2 L191.4,462.7 L193.0,465.2 L194.6,467.7 L196.2,470.2 L197.8,472.7 L199.4,475.1 L201.0,477.6 L202.6,480.0 L204.2,482.5 L205.8,484.9 L207.4,487.3 L209.0,489.7 L210.5,492.1 L212.1,494.5 L213.7,496.9 L215.3,499.2 L216.9,501.6 L218.3,503.6 L219.5,505.4 L220.5,506.9 L221.3,508.0 L221.9,508.9 L222.3,509.5 L222.5,509.8" fill="none" stroke="#2a5c86" stroke-width="0.8" stroke-opacity="0.85"/>
<path d="M133.7,342.1 L133.9,342.2 L134.3,342.4 L134.9,342.7 L135.6,343.0 L136.6,343.5 L137.7,344.1 L139.1,344.7 L140.6,345.4 L143.5,347.4 L147.8,350.7 L153.4,355.1 L160.3,360.9 L168.6,367.9 L178.3,376.1 L189.3,385.6 L201.7,396.4 L213.8,406.5 L225.8,416.1 L237.5,425.0 L249.0,433.4 L260.3,441.1 L271.3,448.2 L282.2,454.8 L292.8,460.7 L302.5,466.4 L311.4,471.7 L319.3,476.7 L326.4,481.5 L332.6,485.9 L337.9,490.0 L342.2,493.9 L345.8,497.4 L348.8,500.5 L351.4,503.2 L353.6,505.4 L355.4,507.1 L356.7,508.5 L357.6,509.4 L358.0,509.8" fill="none" stroke="#b41840" stroke-width="0.8" stroke-opacity="0.85"/>
<path d="M126.5,321.9 L126.8,322.0 L127.4,322.2 L128.3,322.4 L129.5,322.7 L131.1,323.1 L132.9,323.6 L135.0,324.1 L137.5,324.8 L140.8,325.9 L145.0,327.5 L150.2,329.6 L156.2,332.2 L163.1,335.3 L171.0,338.9 L179.7,343.0 L189.3,347.5 L198.7,352.0 L207.9,356.3 L216.9,360.6 L225.6,364.7 L234.2,368.8 L242.5,372.7 L250.6,376.6 L258.4,380.3 L265.4,383.6 L271.4,386.5 L276.6,388.9 L280.8,390.9 L284.1,392.5 L286.5,393.7 L287.9,394.4 L288.5,394.7 L289.1,395.1 L289.6,395.4 L290.1,395.7 L290.7,396.0 L291.2,396.4 L291.7,396.7 L292.2,397.1 L292.7,397.5 L293.2,397.8 L293.7,398.2 L294.2,398.6 L294.7,399.0 L295.1,399.4 L295.6,399.8 L296.1,400.2 L296.5,400.7 L296.9,401.1 L297.4,401.5 L297.8,402.0 L298.2,402.4 L298.6,402.9 L299.1,403.4 L299.5,403.8 L299.9,404.3 L300.2,404.8 L300.6,405.3 L301.0,405.8 L301.4,406.4 L301.7,406.9 L302.1,407.4 L302.4,407.9 L302.8,408.5 L303.1,409.0 L303.5,409.6 L303.8,410.2 L304.1,410.7 L304.4,411.3 L304.7,411.9 L305.0,412.5 L305.3,413.1 L306.2,415.1 L307.6,418.5 L309.6,423.3 L312.2,429.6 L315.4,437.2 L319.1,446.2 L323.4,456.6 L328.3,468.4 L332.6,478.8 L336.2,487.6 L339.3,495.0 L341.7,500.9 L343.6,505.4 L344.8,508.3 L345.4,509.8" fill="none" stroke="#b41840" stroke-width="0.8" stroke-opacity="0.85"/>
<path d="M128.3,375.7 L128.6,375.8 L129.1,375.9 L130.0,376.0 L131.1,376.2 L132.5,376.5 L134.1,376.8 L136.1,377.2 L138.3,377.6 L141.7,378.4 L146.5,379.8 L152.5,381.6 L159.8,383.9 L168.4,386.7 L178.2,389.9 L189.3,393.6 L201.7,397.7 L213.8,401.7 L225.8,405.4 L237.5,408.9 L249.0,412.1 L260.3,415.2 L271.3,418.0 L282.2,420.6 L292.8,422.9 L303.4,425.3 L313.8,427.6 L324.2,429.9 L334.5,432.2 L344.8,434.4 L354.9,436.7 L365.0,438.9 L375.0,441.1 L385.2,443.3 L395.6,445.6 L406.2,447.9 L417.0,450.2 L428.0,452.5 L439.2,454.8 L450.6,457.2 L462.2,459.6 L472.4,461.7 L481.1,463.5 L488.3,465.0 L494.1,466.2 L498.4,467.1 L501.4,467.7 L502.8,468.0" fill="none" stroke="#2a5c86" stroke-width="0.8" stroke-opacity="0.85"/>
<path d="M130.0,380.6 L130.3,380.7 L130.8,380.8 L131.5,380.9 L132.5,381.2 L133.8,381.4 L135.3,381.7 L137.0,382.1 L139.0,382.5 L142.3,383.5 L146.9,385.0 L152.8,387.0 L160.0,389.6 L168.5,392.7 L178.2,396.4 L189.3,400.6 L201.7,405.4 L213.8,410.0 L225.8,414.4 L237.5,418.7 L249.0,422.8 L260.3,426.7 L271.3,430.5 L282.2,434.1 L292.8,437.5 L303.1,440.9 L313.1,444.2 L322.8,447.4 L332.2,450.5 L341.2,453.6 L350.0,456.6 L358.4,459.4 L366.6,462.3 L375.4,465.3 L384.8,468.4 L395.0,471.8 L405.7,475.4 L417.2,479.2 L429.4,483.1 L442.2,487.2 L455.6,491.6 L467.4,495.3 L477.5,498.6 L486.0,501.3 L492.7,503.5 L497.7,505.1 L501.1,506.2 L502.8,506.7" fill="none" stroke="#2a5c86" stroke-width="0.8" stroke-opacity="0.85"/>
<path d="M135.2,376.3 L135.3,376.3 L135.7,376.5 L136.2,376.8 L136.9,377.2 L137.7,377.6 L138.7,378.1 L139.9,378.8 L141.3,379.5 L144.0,381.6 L148.1,385.1 L153.6,390.0 L160.5,396.4 L168.7,404.1 L178.3,413.2 L189.3,423.7 L201.7,435.7 L213.1,446.6 L223.6,456.6 L233.2,465.5 L241.9,473.5 L249.6,480.5 L256.4,486.5 L262.3,491.6 L267.2,495.6 L271.5,499.2 L275.2,502.2 L278.3,504.7 L280.8,506.8 L282.6,508.3 L283.9,509.3 L284.5,509.8" fill="none" stroke="#2a5c86" stroke-width="0.8" stroke-opacity="0.85"/>
<path d="M135.8,346.2 L136.0,346.3 L136.3,346.4 L136.8,346.6 L137.4,346.8 L138.2,347.1 L139.2,347.5 L140.3,347.9 L141.5,348.3 L144.2,349.8 L148.3,352.3 L153.7,355.7 L160.5,360.1 L168.7,365.5 L178.3,371.9 L189.3,379.3 L201.7,387.7 L213.8,395.7 L225.8,403.3 L237.5,410.6 L249.0,417.4 L260.3,423.9 L271.3,430.1 L282.2,435.8 L292.8,441.2 L302.9,446.7 L312.5,452.3 L321.6,458.0 L330.2,463.7 L338.2,469.7 L345.7,475.7 L352.8,481.8 L359.2,488.0 L364.9,493.5 L369.8,498.1 L373.9,502.0 L377.1,505.1 L379.6,507.5 L381.2,509.0 L382.0,509.8" fill="none" stroke="#b41840" stroke-width="0.8" stroke-opacity="0.85"/>
<path d="M124.2,327.0 L124.6,327.1 L125.2,327.4 L126.3,327.8 L127.6,328.3 L129.3,328.9 L131.4,329.6 L133.7,330.5 L136.5,331.5 L140.4,333.4 L145.5,336.2 L151.9,339.9 L159.4,344.6 L168.2,350.1 L178.1,356.5 L189.3,363.9 L201.7,372.1 L213.8,380.0 L225.8,387.4 L237.5,394.3 L249.0,400.9 L260.3,407.0 L271.3,412.8 L282.2,418.1 L292.8,422.9 L303.9,428.3 L315.5,434.1 L327.6,440.5 L340.1,447.2 L353.1,454.5 L366.6,462.3 L380.6,470.5 L395.1,479.3 L407.7,486.9 L418.6,493.4 L427.6,498.9 L434.9,503.3 L440.3,506.5 L443.9,508.7 L445.7,509.8" fill="none" stroke="#b41840" stroke-width="0.8" stroke-opacity="0.85"/>
<path d="M141.9,407.4 L142.0,407.5 L142.1,407.6 L142.3,407.8 L142.5,408.1 L142.9,408.4 L143.2,408.9 L143.7,409.3 L144.2,409.9 L144.8,410.7 L145.5,411.6 L146.3,412.8 L147.2,414.2 L148.1,415.8 L149.2,417.6 L150.3,419.6 L151.5,421.8 L152.8,424.0 L154.0,426.2 L155.2,428.4 L156.4,430.5 L157.7,432.7 L158.9,434.9 L160.1,437.0 L161.4,439.2 L162.6,441.3 L163.8,443.4 L165.1,445.5 L166.3,447.6 L167.5,449.7 L168.7,451.8 L170.0,453.9 L171.2,456.0 L172.4,458.1 L173.7,460.1 L174.9,462.2 L176.1,464.2 L177.3,466.2 L178.6,468.3 L179.8,470.3 L181.0,472.3 L182.3,474.3 L183.5,476.3 L184.7,478.3 L185.9,480.2 L187.2,482.2 L188.4,484.2 L189.6,486.1 L190.9,488.0 L192.1,490.0 L193.3,491.9 L194.6,493.8 L195.8,495.7 L197.0,497.6 L198.2,499.5 L199.5,501.4 L200.7,503.3 L201.8,504.9 L202.7,506.3 L203.5,507.5 L204.1,508.4 L204.5,509.1 L204.8,509.6 L205.0,509.8" fill="none" stroke="#2a5c86" stroke-width="0.8" stroke-opacity="0.85"/>
<path d="M141.5,358.3 L141.5,358.4 L141.7,358.5 L141.9,358.7 L142.2,358.9 L142.5,359.2 L142.9,359.5 L143.4,359.9 L144.0,360.4 L144.8,361.2 L145.9,362.4 L147.1,364.0 L148.6,365.9 L150.4,368.1 L152.4,370.7 L154.6,373.7 L157.0,377.0 L159.5,380.4 L161.9,383.7 L164.4,387.0 L166.8,390.3 L169.3,393.5 L171.7,396.8 L174.2,400.0 L176.6,403.3 L179.0,406.5 L181.5,409.7 L183.9,412.9 L186.4,416.1 L188.8,419.2 L191.3,422.4 L193.7,425.5 L196.2,428.7 L198.6,431.8 L201.1,434.9 L203.5,438.0 L206.0,441.0 L208.4,444.1 L210.9,447.2 L213.3,450.2 L215.8,453.2 L218.2,456.2 L220.7,459.2 L223.1,462.2 L225.6,465.2 L228.0,468.2 L230.5,471.1 L232.9,474.1 L235.3,477.0 L237.8,479.9 L240.2,482.8 L242.7,485.7 L245.1,488.6 L247.6,491.4 L250.0,494.3 L252.5,497.1 L254.9,499.9 L257.1,502.4 L258.9,504.5 L260.4,506.3 L261.7,507.7 L262.6,508.7 L263.2,509.4 L263.5,509.8" fill="none" stroke="#2a5c86" stroke-width="0.8" stroke-opacity="0.85"/>
<path d="M134.0,291.5 L134.2,291.6 L134.6,291.7 L135.1,291.8 L135.9,292.0 L136.8,292.3 L137.9,292.6 L139.2,293.0 L140.8,293.4 L143.6,294.6 L147.8,296.5 L153.4,299.1 L160.3,302.5 L168.6,306.6 L178.3,311.5 L189.3,317.1 L201.7,323.5 L213.8,329.7 L225.8,335.9 L237.5,341.9 L249.0,347.8 L260.3,353.6 L271.3,359.3 L282.2,364.9 L292.8,370.4 L303.4,375.9 L313.8,381.5 L324.2,387.1 L334.5,392.7 L344.8,398.4 L354.9,404.1 L365.0,409.8 L375.0,415.6 L384.5,421.1 L393.4,426.3 L401.8,431.3 L409.7,436.0 L417.0,440.5 L423.8,444.7 L430.1,448.6 L435.9,452.2 L441.6,455.9 L447.4,459.6 L453.2,463.4 L459.0,467.1 L464.8,470.9 L470.6,474.8 L476.5,478.7 L482.3,482.5 L487.4,486.0 L491.8,488.9 L495.5,491.3 L498.4,493.3 L500.6,494.7 L502.1,495.7 L502.8,496.2" fill="none" stroke="#b41840" stroke-width="0.8" stroke-opacity="0.85"/>
<path d="M137.2,372.6 L137.4,372.9 L137.7,373.3 L138.1,374.0 L138.6,374.9 L139.3,376.1 L140.1,377.5 L141.1,379.1 L142.2,381.0 L143.2,382.9 L144.3,385.0 L145.4,387.2 L146.4,389.5 L147.4,391.9 L148.4,394.5 L149.4,397.1 L150.4,399.9 L151.4,402.6 L152.4,405.4 L153.3,408.1 L154.3,410.8 L155.3,413.5 L156.3,416.2 L157.3,418.9 L158.2,421.6 L159.2,424.2 L160.2,426.9 L161.2,429.5 L162.2,432.2 L163.1,434.8 L164.1,437.4 L165.1,440.0 L166.1,442.6 L167.1,445.2 L168.0,447.8 L169.0,450.3 L170.0,452.9 L171.0,455.4 L171.9,457.9 L172.9,460.5 L173.9,463.0 L174.9,465.5 L175.9,467.9 L176.8,470.4 L177.8,472.9 L178.8,475.3 L179.8,477.8 L180.8,480.2 L181.7,482.6 L182.7,485.0 L183.7,487.4 L184.7,489.8 L185.7,492.2 L186.6,494.6 L187.6,496.9 L188.6,499.3 L189.6,501.6 L190.4,503.7 L191.2,505.4 L191.8,506.9 L192.3,508.0 L192.6,508.9 L192.9,509.5 L193.0,509.8" fill="none" stroke="#2a5c86" stroke-width="0.8" stroke-opacity="0.85"/>
<path d="M141.0,361.4 L141.1,361.5 L141.3,361.7 L141.5,361.9 L141.8,362.2 L142.2,362.6 L142.7,363.1 L143.2,363.7 L143.8,364.4 L144.6,365.4 L145.5,366.7 L146.6,368.3 L147.8,370.2 L149.2,372.5 L150.7,375.1 L152.4,378.0 L154.2,381.2 L156.1,384.4 L157.9,387.6 L159.8,390.8 L161.6,394.0 L163.4,397.2 L165.2,400.3 L167.1,403.5 L168.9,406.6 L170.8,409.7 L172.6,412.8 L174.4,415.9 L176.2,419.0 L178.1,422.1 L179.9,425.1 L181.8,428.2 L183.6,431.2 L185.4,434.2 L187.2,437.2 L189.1,440.2 L190.9,443.2 L192.8,446.2 L194.6,449.1 L196.4,452.1 L198.2,455.0 L200.1,457.9 L201.9,460.8 L203.8,463.7 L205.6,466.6 L207.4,469.5 L209.2,472.3 L211.1,475.2 L212.9,478.0 L214.8,480.8 L216.6,483.6 L218.4,486.4 L220.2,489.2 L222.1,492.0 L223.9,494.8 L225.8,497.5 L227.6,500.2 L229.2,502.6 L230.6,504.7 L231.7,506.4 L232.6,507.8 L233.3,508.8 L233.8,509.5 L234.0,509.8" fill="none" stroke="#2a5c86" stroke-width="0.8" stroke-opacity="0.85"/>
<path d="M130.6,290.6 L130.8,290.7 L131.3,291.0 L132.0,291.3 L133.0,291.8 L134.2,292.3 L135.6,293.0 L137.3,293.8 L139.3,294.8 L141.8,296.3 L144.9,298.5 L148.7,301.3 L153.0,304.7 L157.9,308.7 L163.5,313.3 L169.6,318.6 L176.4,324.4 L183.1,330.3 L189.7,336.2 L196.2,342.1 L202.8,347.9 L209.2,353.8 L215.6,359.7 L221.9,365.6 L228.1,371.4 L234.4,377.3 L240.6,383.2 L246.9,389.2 L253.1,395.1 L259.4,401.0 L265.6,407.0 L271.9,413.0 L278.1,419.0 L284.4,425.3 L290.8,432.0 L297.1,439.0 L303.5,446.4 L310.0,454.1 L316.5,462.2 L323.1,470.5 L329.6,479.3 L335.4,486.9 L340.3,493.4 L344.5,498.9 L347.8,503.3 L350.2,506.5 L351.9,508.7 L352.7,509.8" fill="none" stroke="#b41840" stroke-width="0.8" stroke-opacity="0.85"/>
<path d="M126.8,361.1 L127.1,361.3 L127.7,361.6 L128.6,362.2 L129.8,362.9 L131.3,363.9 L133.1,365.0 L135.2,366.3 L137.6,367.8 L141.2,370.8 L146.1,375.4 L152.3,381.6 L159.7,389.3 L168.3,398.6 L178.2,409.5 L189.3,421.9 L201.7,435.8 L213.1,448.4 L223.6,459.7 L233.1,469.6 L241.7,478.1 L249.4,485.3 L256.1,491.2 L261.8,495.7 L266.7,498.8 L270.9,501.6 L274.5,503.9 L277.5,505.9 L279.9,507.4 L281.7,508.6 L282.9,509.4 L283.5,509.8" fill="none" stroke="#2a5c86" stroke-width="0.8" stroke-opacity="0.85"/>
<path d="M134.9,330.1 L135.0,330.1 L135.4,330.2 L135.9,330.4 L136.6,330.5 L137.5,330.8 L138.5,331.0 L139.7,331.4 L141.1,331.7 L143.6,332.6 L147.2,334.1 L151.9,336.2 L157.6,338.7 L164.5,341.9 L172.4,345.6 L181.4,349.8 L191.6,354.7 L201.5,359.4 L211.2,364.0 L220.6,368.5 L229.9,372.9 L238.9,377.2 L247.7,381.3 L256.3,385.4 L264.7,389.4 L272.1,392.9 L278.5,396.0 L283.9,398.6 L288.4,400.7 L291.9,402.4 L294.4,403.6 L295.9,404.4 L296.5,404.7 L297.1,405.0 L297.6,405.3 L298.1,405.7 L298.7,406.0 L299.2,406.3 L299.7,406.7 L300.2,407.0 L300.7,407.4 L301.2,407.7 L301.7,408.1 L302.2,408.5 L302.7,408.8 L303.1,409.2 L303.6,409.6 L304.1,410.0 L304.5,410.4 L304.9,410.8 L305.4,411.3 L305.8,411.7 L306.2,412.1 L306.6,412.6 L307.1,413.0 L307.5,413.5 L307.9,413.9 L308.2,414.4 L308.6,414.8 L309.0,415.3 L309.4,415.8 L309.7,416.3 L310.1,416.8 L310.4,417.3 L310.8,417.8 L311.1,418.3 L311.5,418.8 L311.8,419.4 L312.1,419.9 L312.4,420.4 L312.7,421.0 L313.0,421.5 L313.3,422.1 L314.1,423.9 L315.6,427.0 L317.5,431.4 L320.1,437.0 L323.2,443.9 L326.9,452.1 L331.1,461.6 L335.9,472.3 L340.1,481.7 L343.7,489.7 L346.7,496.4 L349.1,501.8 L350.9,505.8 L352.1,508.5 L352.7,509.8" fill="none" stroke="#b41840" stroke-width="0.8" stroke-opacity="0.85"/>
<path d="M135.5,349.8 L135.7,349.9 L136.0,350.1 L136.5,350.4 L137.1,350.8 L138.0,351.2 L138.9,351.8 L140.1,352.5 L141.4,353.3 L142.9,354.3 L144.5,355.5 L146.2,357.0 L148.1,358.7 L150.1,360.6 L152.2,362.8 L154.5,365.2 L157.0,367.8 L159.2,370.2 L161.2,372.4 L163.0,374.3 L164.5,376.0 L165.9,377.4 L167.0,378.6 L167.9,379.6 L168.6,380.3 L169.3,381.1 L169.9,381.8 L170.6,382.5 L171.2,383.2 L171.8,383.8 L172.4,384.5 L172.9,385.1 L173.5,385.7 L174.1,386.4 L174.6,387.0 L175.1,387.6 L175.7,388.3 L176.2,388.9 L176.7,389.5 L177.2,390.1 L177.7,390.8 L178.2,391.4 L178.7,392.0 L179.2,392.6 L179.7,393.3 L180.1,393.9 L180.6,394.5 L181.1,395.1 L181.5,395.7 L181.9,396.4 L182.4,397.0 L182.8,397.6 L183.2,398.2 L183.6,398.9 L184.1,399.5 L184.5,400.1 L184.9,400.7 L185.2,401.3 L185.6,402.0 L186.0,402.6 L186.4,403.2 L186.7,403.8 L187.1,404.4 L187.4,405.1 L187.8,405.7 L188.1,406.3 L188.5,406.9 L188.8,407.5 L189.1,408.2 L189.4,408.8 L189.7,409.4 L190.0,410.0 L190.3,410.6 L191.2,412.7 L192.7,416.2 L194.8,421.1 L197.5,427.5 L200.9,435.3 L204.8,444.5 L209.4,455.2 L214.5,467.4 L219.0,478.0 L222.9,487.1 L226.1,494.6 L228.7,500.7 L230.7,505.3 L232.0,508.3 L232.6,509.8" fill="none" stroke="#b41840" stroke-width="0.8" stroke-opacity="0.85"/>
<path d="M138.1,412.6 L138.2,412.7 L138.5,412.9 L138.8,413.3 L139.3,413.8 L139.9,414.4 L140.7,415.1 L141.6,415.9 L142.5,416.9 L143.6,418.0 L144.6,419.2 L145.7,420.6 L146.8,422.1 L148.0,423.7 L149.2,425.4 L150.4,427.3 L151.6,429.4 L152.9,431.4 L154.1,433.4 L155.4,435.4 L156.6,437.4 L157.9,439.3 L159.1,441.3 L160.4,443.3 L161.6,445.2 L162.9,447.2 L164.1,449.1 L165.4,451.1 L166.6,453.0 L167.9,454.9 L169.1,456.8 L170.4,458.7 L171.6,460.6 L172.9,462.5 L174.1,464.4 L175.4,466.3 L176.6,468.1 L177.9,470.0 L179.1,471.8 L180.4,473.7 L181.6,475.5 L182.9,477.3 L184.1,479.2 L185.4,481.0 L186.6,482.8 L187.9,484.6 L189.1,486.4 L190.4,488.1 L191.6,489.9 L192.9,491.7 L194.1,493.4 L195.4,495.2 L196.6,496.9 L197.9,498.7 L199.1,500.4 L200.4,502.1 L201.6,503.8 L202.7,505.3 L203.7,506.6 L204.4,507.7 L205.1,508.5 L205.5,509.2 L205.8,509.6 L206.0,509.8" fill="none" stroke="#2a5c86" stroke-width="0.8" stroke-opacity="0.85"/>
<path d="M142.6,364.0 L142.6,364.0 L142.7,364.2 L142.9,364.4 L143.1,364.7 L143.4,365.0 L143.7,365.5 L144.1,365.9 L144.5,366.5 L145.1,367.4 L145.7,368.6 L146.6,370.2 L147.5,372.0 L148.6,374.2 L149.8,376.8 L151.1,379.6 L152.6,382.8 L154.1,386.0 L155.5,389.2 L157.0,392.3 L158.5,395.5 L159.9,398.6 L161.4,401.7 L162.9,404.8 L164.3,407.9 L165.8,411.0 L167.3,414.0 L168.7,417.1 L170.2,420.1 L171.7,423.2 L173.1,426.2 L174.6,429.2 L176.1,432.2 L177.5,435.2 L179.0,438.1 L180.5,441.1 L181.9,444.0 L183.4,447.0 L184.9,449.9 L186.3,452.8 L187.8,455.7 L189.3,458.6 L190.7,461.4 L192.2,464.3 L193.7,467.2 L195.1,470.0 L196.6,472.8 L198.1,475.6 L199.5,478.4 L201.0,481.2 L202.5,484.0 L203.9,486.7 L205.4,489.5 L206.9,492.2 L208.3,494.9 L209.8,497.7 L211.3,500.4 L212.6,502.7 L213.7,504.7 L214.6,506.4 L215.3,507.8 L215.8,508.8 L216.2,509.5 L216.4,509.8" fill="none" stroke="#2a5c86" stroke-width="0.8" stroke-opacity="0.85"/>
<path d="M132.4,335.5 L132.6,335.5 L133.0,335.7 L133.6,335.9 L134.5,336.2 L135.6,336.5 L136.8,337.0 L138.3,337.4 L140.0,338.0 L142.2,338.9 L144.8,340.2 L147.9,341.7 L151.4,343.6 L155.4,345.9 L159.9,348.5 L164.8,351.4 L170.2,354.6 L175.3,357.7 L180.3,360.7 L185.0,363.6 L189.5,366.3 L193.8,368.9 L197.8,371.3 L201.7,373.7 L205.3,375.9 L208.6,377.8 L211.4,379.6 L213.9,381.1 L216.0,382.4 L217.7,383.4 L219.0,384.2 L219.9,384.8 L220.5,385.2 L221.1,385.6 L221.6,385.9 L222.1,386.3 L222.7,386.7 L223.2,387.1 L223.7,387.5 L224.2,387.9 L224.7,388.3 L225.2,388.7 L225.7,389.1 L226.2,389.5 L226.7,389.9 L227.1,390.3 L227.6,390.7 L228.1,391.2 L228.5,391.6 L228.9,392.0 L229.4,392.5 L229.8,392.9 L230.2,393.3 L230.6,393.8 L231.1,394.2 L231.5,394.7 L231.9,395.1 L232.2,395.6 L232.6,396.1 L233.0,396.5 L233.4,397.0 L233.7,397.5 L234.1,398.0 L234.4,398.5 L234.8,398.9 L235.1,399.4 L235.5,399.9 L235.8,400.4 L236.1,400.9 L236.4,401.4 L236.7,401.9 L237.0,402.5 L237.3,403.0 L238.3,405.1 L240.2,408.7 L242.8,414.0 L246.2,420.8 L250.3,429.2 L255.2,439.2 L260.9,450.7 L267.4,463.9 L273.0,475.3 L277.9,485.2 L281.9,493.4 L285.2,500.0 L287.6,504.9 L289.2,508.2 L290.0,509.8" fill="none" stroke="#b41840" stroke-width="0.8" stroke-opacity="0.85"/>
<path d="M132.5,371.0 L132.7,371.2 L133.2,371.4 L133.8,371.7 L134.6,372.1 L135.7,372.7 L137.0,373.3 L138.4,374.1 L140.1,375.0 L143.1,377.2 L147.5,380.7 L153.2,385.6 L160.2,391.9 L168.6,399.5 L178.3,408.4 L189.3,418.7 L201.7,430.3 L213.2,440.8 L223.9,450.2 L233.8,458.5 L242.8,465.7 L250.9,471.8 L258.2,476.8 L264.7,480.6 L270.3,483.4 L275.7,486.0 L280.8,488.6 L285.6,491.1 L290.2,493.6 L294.5,495.9 L298.5,498.2 L302.2,500.3 L305.8,502.5 L308.8,504.3 L311.4,505.9 L313.6,507.2 L315.4,508.2 L316.7,509.0 L317.6,509.5 L318.0,509.8" fill="none" stroke="#2a5c86" stroke-width="0.8" stroke-opacity="0.85"/>
<path d="M130.4,299.5 L130.7,299.6 L131.1,299.7 L131.9,300.0 L132.8,300.3 L134.1,300.7 L135.5,301.2 L137.2,301.8 L139.2,302.5 L142.4,304.0 L147.0,306.4 L152.8,309.7 L160.0,313.9 L168.5,318.9 L178.2,324.8 L189.3,331.6 L201.7,339.2 L213.8,346.7 L225.8,354.0 L237.5,361.0 L249.0,367.9 L260.3,374.6 L271.3,381.1 L282.2,387.4 L292.8,393.6 L303.4,399.3 L313.8,404.6 L324.2,409.5 L334.5,414.0 L344.8,418.1 L354.9,421.8 L365.0,425.1 L375.0,427.9 L385.2,431.1 L395.6,434.6 L406.2,438.4 L417.0,442.5 L428.0,446.9 L439.2,451.7 L450.6,456.7 L462.2,462.0 L472.4,466.7 L481.1,470.7 L488.3,474.0 L494.1,476.7 L498.4,478.7 L501.4,480.0 L502.8,480.7" fill="none" stroke="#b41840" stroke-width="0.8" stroke-opacity="0.85"/>
<path d="M129.7,346.9 L129.9,347.0 L130.4,347.2 L131.2,347.5 L132.2,347.9 L133.5,348.3 L135.0,348.9 L136.8,349.6 L138.9,350.3 L142.2,352.1 L146.8,354.7 L152.7,358.3 L159.9,362.9 L168.4,368.4 L178.2,374.9 L189.3,382.3 L201.7,390.7 L213.8,398.7 L225.8,406.4 L237.5,413.7 L249.0,420.6 L260.3,427.2 L271.3,433.4 L282.2,439.2 L292.8,444.8 L302.9,450.3 L312.4,455.8 L321.4,461.4 L329.8,467.0 L337.7,472.7 L345.1,478.3 L351.9,484.0 L358.1,489.8 L363.6,494.8 L368.3,499.1 L372.2,502.6 L375.3,505.5 L377.7,507.7 L379.2,509.1 L380.0,509.8" fill="none" stroke="#b41840" stroke-width="0.8" stroke-opacity="0.85"/>
<path d="M141.2,363.2 L141.3,363.2 L141.4,363.4 L141.7,363.6 L142.0,363.9 L142.3,364.2 L142.8,364.6 L143.3,365.1 L143.9,365.6 L144.7,366.5 L145.7,367.7 L146.8,369.3 L148.2,371.2 L149.7,373.4 L151.4,375.9 L153.3,378.8 L155.4,382.0 L157.5,385.2 L159.5,388.4 L161.6,391.6 L163.7,394.7 L165.8,397.9 L167.9,401.0 L170.0,404.1 L172.0,407.3 L174.1,410.4 L176.2,413.4 L178.3,416.5 L180.4,419.6 L182.5,422.6 L184.5,425.7 L186.6,428.7 L188.7,431.7 L190.8,434.7 L192.9,437.7 L195.0,440.7 L197.0,443.6 L199.1,446.6 L201.2,449.5 L203.3,452.4 L205.4,455.4 L207.5,458.3 L209.5,461.1 L211.6,464.0 L213.7,466.9 L215.8,469.7 L217.9,472.6 L220.0,475.4 L222.0,478.2 L224.1,481.0 L226.2,483.8 L228.3,486.6 L230.4,489.4 L232.5,492.1 L234.5,494.8 L236.6,497.6 L238.7,500.3 L240.5,502.7 L242.1,504.7 L243.4,506.4 L244.4,507.8 L245.2,508.8 L245.7,509.5 L246.0,509.8" fill="none" stroke="#2a5c86" stroke-width="0.8" stroke-opacity="0.85"/>
<path d="M140.1,385.2 L140.2,385.3 L140.4,385.6 L140.7,385.9 L141.0,386.3 L141.5,386.8 L142.0,387.5 L142.7,388.2 L143.4,389.1 L144.2,390.2 L145.1,391.5 L146.1,393.0 L147.2,394.8 L148.3,396.7 L149.5,398.9 L150.8,401.4 L152.2,404.0 L153.6,406.7 L154.9,409.3 L156.3,411.9 L157.7,414.6 L159.1,417.2 L160.4,419.8 L161.8,422.3 L163.2,424.9 L164.6,427.5 L165.9,430.0 L167.3,432.6 L168.7,435.1 L170.1,437.6 L171.4,440.2 L172.8,442.7 L174.2,445.2 L175.6,447.6 L176.9,450.1 L178.3,452.6 L179.7,455.0 L181.1,457.5 L182.4,459.9 L183.8,462.3 L185.2,464.7 L186.6,467.1 L187.9,469.5 L189.3,471.9 L190.7,474.3 L192.1,476.6 L193.4,479.0 L194.8,481.3 L196.2,483.7 L197.6,486.0 L198.9,488.3 L200.3,490.6 L201.7,492.9 L203.1,495.2 L204.4,497.4 L205.8,499.7 L207.2,501.9 L208.4,503.9 L209.4,505.6 L210.3,507.0 L211.0,508.1 L211.5,509.0 L211.8,509.5 L212.0,509.8" fill="none" stroke="#2a5c86" stroke-width="0.8" stroke-opacity="0.85"/>
<path d="M132.2,369.2 L132.4,369.3 L132.9,369.5 L133.5,369.8 L134.4,370.3 L135.4,370.8 L136.7,371.4 L138.2,372.2 L140.0,373.0 L143.0,375.2 L147.4,378.6 L153.1,383.3 L160.2,389.2 L168.6,396.5 L178.3,405.0 L189.3,414.8 L201.7,425.9 L213.7,436.3 L225.4,446.0 L236.8,455.1 L247.8,463.4 L258.4,471.1 L268.7,478.1 L278.7,484.4 L288.3,490.1 L296.7,495.0 L304.0,499.2 L310.0,502.8 L314.8,505.6 L318.4,507.7 L320.8,509.1 L322.0,509.8" fill="none" stroke="#2a5c86" stroke-width="0.8" stroke-opacity="0.85"/>
<path d="M141.5,416.2 L141.6,416.3 L141.7,416.5 L141.9,416.9 L142.2,417.3 L142.6,417.9 L143.0,418.5 L143.5,419.3 L144.0,420.2 L144.6,421.2 L145.2,422.4 L145.9,423.7 L146.5,425.1 L147.2,426.6 L147.9,428.3 L148.6,430.1 L149.3,432.1 L150.1,434.0 L150.8,436.0 L151.5,437.9 L152.3,439.8 L153.0,441.7 L153.8,443.7 L154.5,445.6 L155.2,447.4 L156.0,449.3 L156.7,451.2 L157.5,453.1 L158.2,454.9 L158.9,456.8 L159.7,458.6 L160.4,460.5 L161.2,462.3 L161.9,464.1 L162.6,465.9 L163.4,467.8 L164.1,469.6 L164.9,471.4 L165.6,473.1 L166.3,474.9 L167.1,476.7 L167.8,478.5 L168.6,480.2 L169.3,482.0 L170.0,483.7 L170.8,485.4 L171.5,487.2 L172.3,488.9 L173.0,490.6 L173.7,492.3 L174.5,494.0 L175.2,495.7 L176.0,497.4 L176.7,499.0 L177.4,500.7 L178.2,502.4 L178.9,504.0 L179.6,505.5 L180.1,506.7 L180.6,507.7 L180.9,508.6 L181.2,509.2 L181.4,509.6 L181.5,509.8" fill="none" stroke="#2a5c86" stroke-width="0.8" stroke-opacity="0.85"/>
<path d="M127.5,360.5 L127.8,360.6 L128.4,360.9 L129.2,361.3 L130.4,361.8 L131.8,362.5 L133.6,363.3 L135.6,364.2 L137.9,365.3 L141.5,367.5 L146.3,370.9 L152.4,375.4 L159.7,381.2 L168.3,388.1 L178.2,396.1 L189.3,405.3 L201.7,415.7 L213.8,425.7 L225.5,435.3 L237.0,444.5 L248.2,453.2 L259.1,461.7 L269.7,469.7 L280.0,477.3 L290.0,484.5 L298.8,490.8 L306.2,496.3 L312.5,500.8 L317.5,504.4 L321.2,507.1 L323.8,508.9 L325.0,509.8" fill="none" stroke="#2a5c86" stroke-width="0.8" stroke-opacity="0.85"/>
<path d="M142.1,403.4 L142.1,403.5 L142.3,403.8 L142.4,404.3 L142.7,404.9 L143.0,405.6 L143.4,406.5 L143.8,407.6 L144.3,408.8 L144.8,410.1 L145.3,411.6 L145.8,413.1 L146.3,414.8 L146.8,416.7 L147.3,418.6 L147.9,420.7 L148.4,422.8 L148.9,425.0 L149.5,427.2 L150.0,429.3 L150.5,431.5 L151.1,433.6 L151.6,435.8 L152.1,437.9 L152.7,440.0 L153.2,442.1 L153.7,444.2 L154.3,446.3 L154.8,448.4 L155.3,450.5 L155.9,452.5 L156.4,454.6 L156.9,456.6 L157.5,458.7 L158.0,460.7 L158.5,462.7 L159.1,464.8 L159.6,466.8 L160.1,468.8 L160.7,470.8 L161.2,472.7 L161.7,474.7 L162.3,476.7 L162.8,478.6 L163.3,480.6 L163.9,482.5 L164.4,484.5 L164.9,486.4 L165.5,488.3 L166.0,490.2 L166.5,492.1 L167.1,494.0 L167.6,495.9 L168.1,497.8 L168.7,499.6 L169.2,501.5 L169.7,503.3 L170.2,504.9 L170.6,506.3 L170.9,507.5 L171.2,508.4 L171.4,509.1 L171.5,509.6 L171.6,509.8" fill="none" stroke="#2a5c86" stroke-width="0.8" stroke-opacity="0.85"/>
<path d="M130.4,349.1 L130.7,349.3 L131.2,349.6 L131.9,350.0 L132.9,350.5 L134.1,351.2 L135.5,352.0 L137.2,353.0 L139.2,354.1 L142.4,356.7 L147.0,360.7 L152.8,366.2 L160.0,373.2 L168.5,381.6 L178.2,391.5 L189.3,402.8 L201.7,415.7 L213.2,427.5 L223.9,438.3 L233.8,448.2 L242.8,457.1 L250.9,465.0 L258.2,471.9 L264.7,477.8 L270.3,482.7 L275.4,487.2 L279.9,491.2 L283.9,494.7 L287.3,497.8 L290.2,500.4 L292.6,502.6 L294.4,504.3 L295.6,505.5 L296.7,506.6 L297.7,507.5 L298.4,508.3 L299.1,508.9 L299.5,509.3 L299.8,509.6 L300.0,509.8" fill="none" stroke="#b41840" stroke-width="0.8" stroke-opacity="0.85"/>
<path d="M126.3,341.5 L126.6,341.7 L127.2,341.9 L128.1,342.3 L129.4,342.9 L130.9,343.5 L132.8,344.3 L134.9,345.2 L137.4,346.3 L140.0,347.6 L142.8,349.1 L145.7,350.8 L148.8,352.8 L152.0,355.0 L155.4,357.4 L158.9,360.1 L162.6,362.9 L166.1,365.6 L169.3,368.2 L172.3,370.5 L175.2,372.7 L177.8,374.8 L180.1,376.6 L182.3,378.3 L184.2,379.8 L186.0,381.2 L187.6,382.4 L189.0,383.5 L190.2,384.5 L191.3,385.4 L192.2,386.1 L192.9,386.7 L193.5,387.2 L194.1,387.6 L194.6,388.1 L195.1,388.5 L195.7,389.0 L196.2,389.5 L196.7,390.0 L197.2,390.4 L197.7,390.9 L198.2,391.4 L198.7,391.8 L199.2,392.3 L199.7,392.8 L200.1,393.3 L200.6,393.8 L201.1,394.2 L201.5,394.7 L201.9,395.2 L202.4,395.7 L202.8,396.2 L203.2,396.7 L203.6,397.2 L204.1,397.7 L204.5,398.1 L204.9,398.6 L205.2,399.1 L205.6,399.6 L206.0,400.1 L206.4,400.6 L206.7,401.1 L207.1,401.6 L207.4,402.2 L207.8,402.7 L208.1,403.2 L208.5,403.7 L208.8,404.2 L209.1,404.7 L209.4,405.2 L209.7,405.7 L210.0,406.2 L210.3,406.8 L211.3,408.8 L213.1,412.4 L215.7,417.4 L219.0,424.0 L223.1,432.1 L227.9,441.7 L233.5,452.9 L239.8,465.5 L245.4,476.6 L250.1,486.1 L254.1,494.0 L257.2,500.3 L259.6,505.1 L261.2,508.2 L262.0,509.8" fill="none" stroke="#b41840" stroke-width="0.8" stroke-opacity="0.85"/>
<path d="M129.0,306.7 L129.2,306.8 L129.8,307.0 L130.5,307.3 L131.6,307.7 L132.9,308.2 L134.5,308.8 L136.4,309.5 L138.5,310.3 L142.0,312.0 L146.6,314.6 L152.6,318.2 L159.9,322.7 L168.4,328.2 L178.2,334.6 L189.3,341.9 L201.7,350.1 L213.8,358.0 L225.8,365.5 L237.5,372.6 L249.0,379.3 L260.3,385.6 L271.3,391.6 L282.2,397.1 L292.8,402.3 L303.4,407.3 L313.8,412.2 L324.2,417.0 L334.5,421.7 L344.8,426.2 L354.9,430.6 L365.0,434.9 L375.0,439.0 L384.9,443.5 L394.6,448.4 L404.2,453.6 L413.7,459.2 L423.1,465.1 L432.3,471.5 L441.4,478.1 L450.3,485.2 L458.2,491.3 L464.9,496.6 L470.5,501.0 L475.0,504.5 L478.3,507.2 L480.6,508.9 L481.7,509.8" fill="none" stroke="#b41840" stroke-width="0.8" stroke-opacity="0.85"/>
<path d="M124.4,330.0 L124.8,330.1 L125.4,330.3 L126.4,330.7 L127.8,331.2 L129.5,331.9 L131.5,332.6 L133.9,333.5 L136.6,334.5 L140.5,336.4 L145.6,339.3 L151.9,343.0 L159.4,347.7 L168.2,353.3 L178.1,359.9 L189.3,367.3 L201.7,375.7 L213.8,383.7 L225.8,391.3 L237.5,398.4 L249.0,405.2 L260.3,411.6 L271.3,417.6 L282.2,423.2 L292.8,428.5 L303.4,434.0 L314.0,439.9 L324.6,446.1 L335.2,452.6 L345.7,459.5 L356.2,466.8 L366.8,474.3 L377.2,482.2 L386.4,489.1 L394.3,495.0 L400.9,499.9 L406.1,503.9 L410.1,506.8 L412.7,508.8 L414.0,509.8" fill="none" stroke="#b41840" stroke-width="0.8" stroke-opacity="0.85"/>
<path d="M125.9,379.3 L126.2,379.4 L126.8,379.6 L127.8,379.9 L129.0,380.3 L130.6,380.9 L132.5,381.5 L134.7,382.2 L137.2,383.1 L140.9,384.7 L145.9,387.2 L152.1,390.6 L159.6,394.7 L168.3,399.7 L178.2,405.6 L189.3,412.2 L201.7,419.8 L213.4,426.5 L224.4,432.5 L234.7,437.8 L244.3,442.2 L253.2,446.0 L261.5,449.0 L269.1,451.2 L275.9,452.8 L283.5,454.6 L291.8,456.7 L300.8,459.1 L310.5,461.9 L320.9,464.9 L332.0,468.3 L343.8,472.0 L356.2,476.0 L367.8,479.8 L378.4,483.4 L388.1,486.9 L396.9,490.1 L404.7,493.1 L411.6,496.0 L417.5,498.7 L422.5,501.1 L426.9,503.3 L430.6,505.2 L433.8,506.7 L436.2,507.9 L438.1,508.9 L439.4,509.5 L440.0,509.8" fill="none" stroke="#2a5c86" stroke-width="0.8" stroke-opacity="0.85"/>
<path d="M128.1,361.1 L128.3,361.2 L128.9,361.3 L129.7,361.5 L130.9,361.9 L132.3,362.2 L133.9,362.7 L135.9,363.2 L138.1,363.8 L141.7,365.2 L146.4,367.2 L152.5,369.9 L159.8,373.2 L168.4,377.3 L178.2,382.1 L189.3,387.6 L201.7,393.7 L213.8,399.6 L225.8,405.1 L237.5,410.4 L249.0,415.3 L260.3,419.9 L271.3,424.2 L282.2,428.2 L292.8,431.9 L303.7,436.2 L314.7,441.0 L326.0,446.4 L337.5,452.3 L349.2,458.7 L361.1,465.7 L373.2,473.3 L385.6,481.4 L396.4,488.5 L405.6,494.6 L413.4,499.7 L419.5,503.7 L424.2,506.8 L427.3,508.8 L428.8,509.8" fill="none" stroke="#2a5c86" stroke-width="0.8" stroke-opacity="0.85"/>
<path d="M124.9,293.3 L125.2,293.4 L125.9,293.6 L126.9,294.0 L128.2,294.4 L129.9,294.9 L131.8,295.6 L134.1,296.3 L136.8,297.2 L140.6,298.9 L145.7,301.3 L152.0,304.6 L159.5,308.7 L168.2,313.7 L178.2,319.4 L189.3,325.9 L201.7,333.3 L213.8,340.5 L225.8,347.7 L237.5,354.8 L249.0,361.9 L260.3,368.8 L271.3,375.7 L282.2,382.5 L292.8,389.2 L303.4,395.4 L313.8,401.0 L324.2,406.1 L334.5,410.7 L344.8,414.7 L354.9,418.2 L365.0,421.1 L375.0,423.5 L385.2,426.0 L395.6,428.6 L406.2,431.3 L417.0,434.1 L428.0,437.0 L439.2,440.0 L450.6,443.1 L462.2,446.3 L472.4,449.1 L481.1,451.5 L488.3,453.5 L494.1,455.1 L498.4,456.3 L501.4,457.1 L502.8,457.5" fill="none" stroke="#b41840" stroke-width="0.8" stroke-opacity="0.85"/>
<path d="M135.3,354.8 L135.5,354.8 L135.8,355.0 L136.3,355.2 L137.0,355.4 L137.8,355.8 L138.8,356.2 L140.0,356.6 L141.3,357.2 L144.0,358.7 L148.1,361.3 L153.6,365.0 L160.5,369.7 L168.7,375.4 L178.3,382.2 L189.3,390.1 L201.7,398.9 L213.8,407.3 L225.8,415.2 L237.5,422.7 L249.0,429.6 L260.3,436.0 L271.3,442.0 L282.2,447.5 L292.8,452.5 L302.7,457.5 L311.7,462.5 L320.0,467.5 L327.5,472.5 L334.2,477.5 L340.2,482.4 L345.3,487.4 L349.7,492.4 L353.5,496.7 L356.8,500.5 L359.5,503.6 L361.7,506.1 L363.4,507.9 L364.5,509.2 L365.0,509.8" fill="none" stroke="#b41840" stroke-width="0.8" stroke-opacity="0.85"/>
<circle cx="206.3" cy="401.9" r="1.55" fill="#0d4a80"/>
<circle cx="151.5" cy="376.4" r="1.55" fill="#0d4a80"/>
<circle cx="149.8" cy="375.9" r="1.55" fill="#0d4a80"/>
<circle cx="162.7" cy="397.7" r="1.55" fill="#0d4a80"/>
<circle cx="208.3" cy="423.6" r="1.55" fill="#0d4a80"/>
<circle cx="196.5" cy="420.3" r="1.55" fill="#0d4a80"/>
<circle cx="167.3" cy="400.3" r="1.55" fill="#0d4a80"/>
<circle cx="154.5" cy="398.1" r="1.55" fill="#0d4a80"/>
<circle cx="184.5" cy="412.5" r="1.55" fill="#0d4a80"/>
<circle cx="166.2" cy="383.5" r="1.55" fill="#0d4a80"/>
<circle cx="232.9" cy="408.3" r="1.55" fill="#0d4a80"/>
<circle cx="177.9" cy="396.6" r="1.55" fill="#0d4a80"/>
<circle cx="163.6" cy="392.3" r="1.55" fill="#0d4a80"/>
<circle cx="189.7" cy="401.3" r="1.55" fill="#0d4a80"/>
<circle cx="239.7" cy="420.9" r="1.55" fill="#0d4a80"/>
<circle cx="240.6" cy="413.7" r="1.55" fill="#0d4a80"/>
<circle cx="203.0" cy="393.4" r="1.55" fill="#0d4a80"/>
<circle cx="155.4" cy="368.2" r="1.55" fill="#0d4a80"/>
<circle cx="149.2" cy="372.0" r="1.55" fill="#0d4a80"/>
<circle cx="207.9" cy="397.3" r="1.55" fill="#0d4a80"/>
<circle cx="148.6" cy="370.0" r="1.55" fill="#0d4a80"/>
<circle cx="211.2" cy="406.2" r="1.55" fill="#0d4a80"/>
<circle cx="155.1" cy="375.8" r="1.55" fill="#0d4a80"/>
<circle cx="173.9" cy="386.6" r="1.55" fill="#0d4a80"/>
<circle cx="149.7" cy="373.3" r="1.55" fill="#0d4a80"/>
<circle cx="154.7" cy="372.2" r="1.55" fill="#0d4a80"/>
<circle cx="172.4" cy="387.6" r="1.55" fill="#0d4a80"/>
<circle cx="227.4" cy="421.2" r="1.55" fill="#0d4a80"/>
<circle cx="178.5" cy="394.2" r="1.55" fill="#0d4a80"/>
<circle cx="194.0" cy="399.5" r="1.55" fill="#0d4a80"/>
<circle cx="174.9" cy="386.9" r="1.55" fill="#0d4a80"/>
<circle cx="152.2" cy="368.8" r="1.55" fill="#0d4a80"/>
<circle cx="153.7" cy="369.8" r="1.55" fill="#0d4a80"/>
<circle cx="170.5" cy="384.8" r="1.55" fill="#0d4a80"/>
<circle cx="235.0" cy="431.4" r="1.55" fill="#0d4a80"/>
<circle cx="223.5" cy="426.6" r="1.55" fill="#0d4a80"/>
<circle cx="151.8" cy="378.1" r="1.55" fill="#0d4a80"/>
<circle cx="197.0" cy="409.5" r="1.55" fill="#0d4a80"/>
<circle cx="184.7" cy="401.7" r="1.55" fill="#0d4a80"/>
<circle cx="186.3" cy="405.5" r="1.55" fill="#0d4a80"/>
<circle cx="164.1" cy="385.9" r="1.55" fill="#0d4a80"/>
<circle cx="205.3" cy="418.9" r="1.55" fill="#0d4a80"/>
<circle cx="159.9" cy="382.8" r="1.55" fill="#0d4a80"/>
<circle cx="203.4" cy="420.9" r="1.55" fill="#0d4a80"/>
<circle cx="180.9" cy="399.6" r="1.55" fill="#0d4a80"/>
<circle cx="159.6" cy="387.1" r="1.55" fill="#0d4a80"/>
<circle cx="179.8" cy="407.8" r="1.55" fill="#0d4a80"/>
<circle cx="228.5" cy="445.7" r="1.55" fill="#0d4a80"/>
<circle cx="175.4" cy="400.8" r="1.55" fill="#0d4a80"/>
<circle cx="155.0" cy="378.9" r="1.55" fill="#0d4a80"/>
<circle cx="172.3" cy="397.0" r="1.55" fill="#0d4a80"/>
<circle cx="150.7" cy="375.2" r="1.55" fill="#0d4a80"/>
<circle cx="221.6" cy="450.7" r="1.55" fill="#0d4a80"/>
<circle cx="233.9" cy="462.1" r="1.55" fill="#0d4a80"/>
<circle cx="222.7" cy="448.2" r="1.55" fill="#0d4a80"/>
<circle cx="204.7" cy="434.8" r="1.55" fill="#0d4a80"/>
<circle cx="169.6" cy="405.5" r="1.55" fill="#0d4a80"/>
<circle cx="197.7" cy="430.4" r="1.55" fill="#0d4a80"/>
<circle cx="205.4" cy="438.8" r="1.55" fill="#0d4a80"/>
<circle cx="202.2" cy="438.0" r="1.55" fill="#0d4a80"/>
<circle cx="193.1" cy="426.1" r="1.55" fill="#0d4a80"/>
<circle cx="155.1" cy="389.7" r="1.55" fill="#0d4a80"/>
<circle cx="199.8" cy="405.9" r="1.55" fill="#c00024"/>
<circle cx="177.3" cy="381.5" r="1.55" fill="#c00024"/>
<circle cx="152.7" cy="359.0" r="1.55" fill="#c00024"/>
<circle cx="169.7" cy="372.8" r="1.55" fill="#c00024"/>
<circle cx="179.3" cy="376.9" r="1.55" fill="#c00024"/>
<circle cx="195.0" cy="392.4" r="1.55" fill="#c00024"/>
<circle cx="288.9" cy="405.5" r="1.55" fill="#c00024"/>
<circle cx="219.1" cy="354.5" r="1.55" fill="#c00024"/>
<circle cx="244.7" cy="369.3" r="1.55" fill="#c00024"/>
<circle cx="168.4" cy="328.7" r="1.55" fill="#c00024"/>
<circle cx="159.5" cy="328.1" r="1.55" fill="#c00024"/>
<circle cx="162.8" cy="333.9" r="1.55" fill="#c00024"/>
<circle cx="155.0" cy="321.1" r="1.55" fill="#c00024"/>
<circle cx="162.3" cy="398.4" r="1.55" fill="#0d4a80"/>
<circle cx="162.7" cy="399.6" r="1.55" fill="#0d4a80"/>
<circle cx="157.5" cy="395.9" r="1.55" fill="#0d4a80"/>
<circle cx="177.1" cy="441.0" r="1.55" fill="#0d4a80"/>
<circle cx="273.5" cy="426.9" r="1.55" fill="#c00024"/>
<circle cx="154.2" cy="350.4" r="1.55" fill="#c00024"/>
<circle cx="162.7" cy="360.4" r="1.55" fill="#c00024"/>
<circle cx="217.9" cy="396.6" r="1.55" fill="#c00024"/>
<circle cx="226.7" cy="396.9" r="1.55" fill="#c00024"/>
<circle cx="151.3" cy="349.9" r="1.55" fill="#c00024"/>
<circle cx="157.2" cy="354.8" r="1.55" fill="#c00024"/>
<circle cx="180.1" cy="370.5" r="1.55" fill="#c00024"/>
<circle cx="178.9" cy="340.5" r="1.55" fill="#c00024"/>
<circle cx="272.6" cy="396.9" r="1.55" fill="#c00024"/>
<circle cx="257.5" cy="392.4" r="1.55" fill="#c00024"/>
<circle cx="159.4" cy="327.4" r="1.55" fill="#c00024"/>
<circle cx="233.8" cy="376.5" r="1.55" fill="#c00024"/>
<circle cx="181.0" cy="340.1" r="1.55" fill="#c00024"/>
<circle cx="176.1" cy="340.6" r="1.55" fill="#c00024"/>
<circle cx="175.0" cy="319.4" r="1.55" fill="#c00024"/>
<circle cx="260.0" cy="371.8" r="1.55" fill="#c00024"/>
<circle cx="255.7" cy="367.9" r="1.55" fill="#c00024"/>
<circle cx="194.7" cy="331.0" r="1.55" fill="#c00024"/>
<circle cx="184.6" cy="327.3" r="1.55" fill="#c00024"/>
<circle cx="191.4" cy="331.6" r="1.55" fill="#c00024"/>
<circle cx="149.9" cy="374.3" r="1.55" fill="#0d4a80"/>
<circle cx="178.1" cy="398.7" r="1.55" fill="#0d4a80"/>
<circle cx="202.8" cy="384.4" r="1.55" fill="#c00024"/>
<circle cx="200.1" cy="385.4" r="1.55" fill="#c00024"/>
<circle cx="151.2" cy="347.6" r="1.55" fill="#c00024"/>
<circle cx="149.2" cy="342.8" r="1.55" fill="#c00024"/>
<circle cx="172.5" cy="361.3" r="1.55" fill="#c00024"/>
<circle cx="152.6" cy="349.4" r="1.55" fill="#c00024"/>
<circle cx="167.4" cy="363.3" r="1.55" fill="#c00024"/>
<circle cx="188.8" cy="376.8" r="1.55" fill="#c00024"/>
<circle cx="163.8" cy="357.0" r="1.55" fill="#c00024"/>
<circle cx="209.3" cy="393.7" r="1.55" fill="#c00024"/>
<circle cx="216.4" cy="397.8" r="1.55" fill="#c00024"/>
<circle cx="205.8" cy="391.8" r="1.55" fill="#c00024"/>
<circle cx="260.6" cy="428.7" r="1.55" fill="#c00024"/>
<circle cx="212.7" cy="396.2" r="1.55" fill="#c00024"/>
<circle cx="203.2" cy="385.7" r="1.55" fill="#c00024"/>
<circle cx="153.3" cy="356.4" r="1.55" fill="#c00024"/>
<circle cx="169.5" cy="369.9" r="1.55" fill="#c00024"/>
<circle cx="186.0" cy="376.5" r="1.55" fill="#c00024"/>
<circle cx="180.2" cy="374.3" r="1.55" fill="#c00024"/>
<circle cx="163.9" cy="356.1" r="1.55" fill="#c00024"/>
<circle cx="164.4" cy="467.2" r="1.55" fill="#0d4a80"/>
<circle cx="154.6" cy="450.1" r="1.55" fill="#0d4a80"/>
<circle cx="285.8" cy="428.3" r="1.55" fill="#c00024"/>
<circle cx="212.2" cy="382.2" r="1.55" fill="#c00024"/>
<circle cx="291.1" cy="428.1" r="1.55" fill="#c00024"/>
<circle cx="164.0" cy="353.0" r="1.55" fill="#c00024"/>
<circle cx="160.9" cy="349.9" r="1.55" fill="#c00024"/>
<circle cx="147.8" cy="373.8" r="1.55" fill="#0d4a80"/>
<circle cx="149.1" cy="364.1" r="1.55" fill="#0d4a80"/>
<circle cx="154.4" cy="375.8" r="1.55" fill="#0d4a80"/>
<circle cx="158.4" cy="460.5" r="1.55" fill="#0d4a80"/>
<circle cx="152.0" cy="445.8" r="1.55" fill="#0d4a80"/>
<circle cx="159.9" cy="379.2" r="1.55" fill="#0d4a80"/>
<circle cx="150.5" cy="369.5" r="1.55" fill="#0d4a80"/>
<circle cx="150.4" cy="375.0" r="1.55" fill="#0d4a80"/>
<circle cx="153.4" cy="372.9" r="1.55" fill="#0d4a80"/>
<circle cx="170.9" cy="401.9" r="1.55" fill="#0d4a80"/>
<circle cx="147.5" cy="418.9" r="1.55" fill="#0d4a80"/>
<circle cx="163.2" cy="449.2" r="1.55" fill="#0d4a80"/>
<circle cx="175.6" cy="446.4" r="1.55" fill="#0d4a80"/>
<circle cx="159.6" cy="411.9" r="1.55" fill="#0d4a80"/>
<circle cx="166.6" cy="427.8" r="1.55" fill="#0d4a80"/>
<circle cx="208.4" cy="419.2" r="1.55" fill="#c00024"/>
<circle cx="164.7" cy="377.6" r="1.55" fill="#c00024"/>
<circle cx="170.2" cy="382.2" r="1.55" fill="#c00024"/>
<circle cx="158.3" cy="371.8" r="1.55" fill="#c00024"/>
<circle cx="177.4" cy="388.9" r="1.55" fill="#c00024"/>
<circle cx="147.5" cy="387.0" r="1.55" fill="#0d4a80"/>
<circle cx="151.4" cy="349.5" r="1.55" fill="#c00024"/>
<circle cx="209.1" cy="388.9" r="1.55" fill="#c00024"/>
<circle cx="217.0" cy="393.3" r="1.55" fill="#c00024"/>
<circle cx="226.9" cy="399.4" r="1.55" fill="#c00024"/>
<circle cx="236.5" cy="404.1" r="1.55" fill="#c00024"/>
<circle cx="152.5" cy="350.5" r="1.55" fill="#c00024"/>
<circle cx="180.3" cy="366.3" r="1.55" fill="#c00024"/>
<circle cx="149.5" cy="345.0" r="1.55" fill="#c00024"/>
<circle cx="189.7" cy="373.9" r="1.55" fill="#c00024"/>
<circle cx="155.9" cy="428.2" r="1.55" fill="#0d4a80"/>
<circle cx="158.8" cy="436.0" r="1.55" fill="#0d4a80"/>
<circle cx="165.0" cy="445.6" r="1.55" fill="#0d4a80"/>
<circle cx="165.7" cy="376.7" r="1.55" fill="#0d4a80"/>
<circle cx="173.0" cy="386.3" r="1.55" fill="#0d4a80"/>
<circle cx="150.7" cy="369.5" r="1.55" fill="#0d4a80"/>
<circle cx="147.9" cy="376.0" r="1.55" fill="#0d4a80"/>
<circle cx="174.3" cy="387.2" r="1.55" fill="#0d4a80"/>
<circle cx="154.5" cy="373.8" r="1.55" fill="#0d4a80"/>
<circle cx="154.6" cy="392.5" r="1.55" fill="#0d4a80"/>
<circle cx="153.5" cy="396.4" r="1.55" fill="#0d4a80"/>
<circle cx="149.0" cy="384.9" r="1.55" fill="#0d4a80"/>
<circle cx="149.3" cy="386.3" r="1.55" fill="#0d4a80"/>
<circle cx="154.6" cy="442.1" r="1.55" fill="#0d4a80"/>
<circle cx="170.7" cy="490.5" r="1.55" fill="#0d4a80"/>
<circle cx="179.7" cy="388.8" r="1.55" fill="#0d4a80"/>
<circle cx="161.0" cy="378.2" r="1.55" fill="#0d4a80"/>
<circle cx="216.0" cy="421.1" r="1.55" fill="#c00024"/>
<circle cx="184.3" cy="395.3" r="1.55" fill="#c00024"/>
<circle cx="160.1" cy="368.7" r="1.55" fill="#c00024"/>
<circle cx="193.4" cy="401.1" r="1.55" fill="#c00024"/>
<circle cx="165.1" cy="376.8" r="1.55" fill="#c00024"/>
<circle cx="190.5" cy="401.1" r="1.55" fill="#c00024"/>
<circle cx="150.3" cy="368.2" r="1.55" fill="#c00024"/>
<circle cx="302.4" cy="405.3" r="1.55" fill="#c00024"/>
<circle cx="224.0" cy="361.3" r="1.55" fill="#c00024"/>
<circle cx="193.8" cy="341.1" r="1.55" fill="#c00024"/>
<circle cx="325.4" cy="413.2" r="1.55" fill="#c00024"/>
<circle cx="230.5" cy="363.6" r="1.55" fill="#c00024"/>
<circle cx="290.4" cy="396.0" r="1.55" fill="#c00024"/>
<circle cx="177.4" cy="334.3" r="1.55" fill="#c00024"/>
<circle cx="162.1" cy="324.0" r="1.55" fill="#c00024"/>
<circle cx="172.5" cy="330.6" r="1.55" fill="#c00024"/>
<circle cx="193.3" cy="347.2" r="1.55" fill="#c00024"/>
<circle cx="155.9" cy="402.4" r="1.55" fill="#0d4a80"/>
<circle cx="160.1" cy="412.7" r="1.55" fill="#0d4a80"/>
<circle cx="182.6" cy="378.5" r="1.55" fill="#c00024"/>
<circle cx="203.9" cy="399.8" r="1.55" fill="#c00024"/>
<circle cx="210.2" cy="402.8" r="1.55" fill="#c00024"/>
<circle cx="170.4" cy="369.4" r="1.55" fill="#c00024"/>
<circle cx="188.5" cy="380.8" r="1.55" fill="#c00024"/>
<circle cx="155.5" cy="357.9" r="1.55" fill="#c00024"/>
<circle cx="264.5" cy="383.4" r="1.55" fill="#c00024"/>
<circle cx="241.5" cy="371.6" r="1.55" fill="#c00024"/>
<circle cx="296.0" cy="400.9" r="1.55" fill="#c00024"/>
<circle cx="284.1" cy="392.9" r="1.55" fill="#c00024"/>
<circle cx="150.9" cy="331.5" r="1.55" fill="#c00024"/>
<circle cx="186.9" cy="342.2" r="1.55" fill="#c00024"/>
<circle cx="165.1" cy="386.9" r="1.55" fill="#0d4a80"/>
<circle cx="156.3" cy="379.8" r="1.55" fill="#0d4a80"/>
<circle cx="172.7" cy="388.7" r="1.55" fill="#0d4a80"/>
<circle cx="161.1" cy="387.3" r="1.55" fill="#0d4a80"/>
<circle cx="149.6" cy="385.5" r="1.55" fill="#0d4a80"/>
<circle cx="165.6" cy="396.4" r="1.55" fill="#0d4a80"/>
<circle cx="169.4" cy="405.5" r="1.55" fill="#0d4a80"/>
<circle cx="173.8" cy="414.5" r="1.55" fill="#0d4a80"/>
<circle cx="149.4" cy="349.1" r="1.55" fill="#c00024"/>
<circle cx="203.7" cy="390.0" r="1.55" fill="#c00024"/>
<circle cx="260.9" cy="426.2" r="1.55" fill="#c00024"/>
<circle cx="271.9" cy="429.8" r="1.55" fill="#c00024"/>
<circle cx="237.7" cy="413.9" r="1.55" fill="#c00024"/>
<circle cx="187.2" cy="379.6" r="1.55" fill="#c00024"/>
<circle cx="176.9" cy="371.2" r="1.55" fill="#c00024"/>
<circle cx="149.9" cy="350.7" r="1.55" fill="#c00024"/>
<circle cx="166.7" cy="358.3" r="1.55" fill="#c00024"/>
<circle cx="194.2" cy="365.0" r="1.55" fill="#c00024"/>
<circle cx="173.9" cy="351.9" r="1.55" fill="#c00024"/>
<circle cx="253.1" cy="406.8" r="1.55" fill="#c00024"/>
<circle cx="225.7" cy="386.0" r="1.55" fill="#c00024"/>
<circle cx="163.8" cy="346.7" r="1.55" fill="#c00024"/>
<circle cx="192.8" cy="370.1" r="1.55" fill="#c00024"/>
<circle cx="194.8" cy="365.9" r="1.55" fill="#c00024"/>
<circle cx="169.3" cy="450.9" r="1.55" fill="#0d4a80"/>
<circle cx="167.2" cy="449.5" r="1.55" fill="#0d4a80"/>
<circle cx="174.9" cy="399.3" r="1.55" fill="#0d4a80"/>
<circle cx="299.2" cy="374.5" r="1.55" fill="#c00024"/>
<circle cx="208.1" cy="324.4" r="1.55" fill="#c00024"/>
<circle cx="187.2" cy="315.6" r="1.55" fill="#c00024"/>
<circle cx="345.1" cy="397.5" r="1.55" fill="#c00024"/>
<circle cx="190.5" cy="320.9" r="1.55" fill="#c00024"/>
<circle cx="170.2" cy="451.8" r="1.55" fill="#0d4a80"/>
<circle cx="165.7" cy="440.6" r="1.55" fill="#0d4a80"/>
<circle cx="186.4" cy="332.4" r="1.55" fill="#c00024"/>
<circle cx="279.3" cy="422.0" r="1.55" fill="#c00024"/>
<circle cx="225.1" cy="369.9" r="1.55" fill="#c00024"/>
<circle cx="171.1" cy="319.3" r="1.55" fill="#c00024"/>
<circle cx="150.5" cy="379.3" r="1.55" fill="#0d4a80"/>
<circle cx="149.6" cy="375.9" r="1.55" fill="#0d4a80"/>
<circle cx="154.3" cy="339.1" r="1.55" fill="#c00024"/>
<circle cx="155.3" cy="339.3" r="1.55" fill="#c00024"/>
<circle cx="270.1" cy="394.3" r="1.55" fill="#c00024"/>
<circle cx="286.3" cy="399.9" r="1.55" fill="#c00024"/>
<circle cx="220.3" cy="367.3" r="1.55" fill="#c00024"/>
<circle cx="314.0" cy="423.0" r="1.55" fill="#c00024"/>
<circle cx="190.7" cy="352.0" r="1.55" fill="#c00024"/>
<circle cx="160.7" cy="340.5" r="1.55" fill="#c00024"/>
<circle cx="309.4" cy="411.9" r="1.55" fill="#c00024"/>
<circle cx="192.2" cy="357.4" r="1.55" fill="#c00024"/>
<circle cx="194.5" cy="359.5" r="1.55" fill="#c00024"/>
<circle cx="191.6" cy="412.4" r="1.55" fill="#c00024"/>
<circle cx="184.0" cy="401.1" r="1.55" fill="#c00024"/>
<circle cx="174.2" cy="386.4" r="1.55" fill="#c00024"/>
<circle cx="197.8" cy="426.4" r="1.55" fill="#c00024"/>
<circle cx="151.1" cy="360.3" r="1.55" fill="#c00024"/>
<circle cx="148.9" cy="373.7" r="1.55" fill="#0d4a80"/>
<circle cx="167.3" cy="353.6" r="1.55" fill="#c00024"/>
<circle cx="162.2" cy="349.2" r="1.55" fill="#c00024"/>
<circle cx="216.5" cy="383.1" r="1.55" fill="#c00024"/>
<circle cx="234.0" cy="395.8" r="1.55" fill="#c00024"/>
<circle cx="167.9" cy="349.2" r="1.55" fill="#c00024"/>
<circle cx="193.4" cy="365.2" r="1.55" fill="#c00024"/>
<circle cx="175.0" cy="354.1" r="1.55" fill="#c00024"/>
<circle cx="159.8" cy="348.9" r="1.55" fill="#c00024"/>
<circle cx="156.1" cy="385.3" r="1.55" fill="#0d4a80"/>
<circle cx="193.2" cy="331.6" r="1.55" fill="#c00024"/>
<circle cx="175.1" cy="323.7" r="1.55" fill="#c00024"/>
<circle cx="198.0" cy="336.7" r="1.55" fill="#c00024"/>
<circle cx="278.6" cy="386.3" r="1.55" fill="#c00024"/>
<circle cx="183.5" cy="326.4" r="1.55" fill="#c00024"/>
<circle cx="180.0" cy="325.4" r="1.55" fill="#c00024"/>
<circle cx="168.8" cy="321.9" r="1.55" fill="#c00024"/>
<circle cx="197.6" cy="340.4" r="1.55" fill="#c00024"/>
<circle cx="169.7" cy="318.2" r="1.55" fill="#c00024"/>
<circle cx="194.9" cy="333.7" r="1.55" fill="#c00024"/>
<circle cx="164.1" cy="364.3" r="1.55" fill="#c00024"/>
<circle cx="227.0" cy="406.2" r="1.55" fill="#c00024"/>
<circle cx="157.6" cy="361.7" r="1.55" fill="#c00024"/>
<circle cx="196.8" cy="393.6" r="1.55" fill="#c00024"/>
<circle cx="152.2" cy="360.3" r="1.55" fill="#c00024"/>
<circle cx="172.1" cy="368.5" r="1.55" fill="#c00024"/>
<circle cx="172.0" cy="370.0" r="1.55" fill="#c00024"/>
<circle cx="158.4" cy="391.0" r="1.55" fill="#0d4a80"/>
<circle cx="168.1" cy="430.8" r="1.55" fill="#0d4a80"/>
<circle cx="168.2" cy="398.4" r="1.55" fill="#0d4a80"/>
<circle cx="148.9" cy="434.6" r="1.55" fill="#0d4a80"/>
<circle cx="170.7" cy="397.8" r="1.55" fill="#0d4a80"/>
<circle cx="158.9" cy="461.9" r="1.55" fill="#0d4a80"/>
<circle cx="213.5" cy="425.3" r="1.55" fill="#c00024"/>
<circle cx="150.3" cy="361.5" r="1.55" fill="#c00024"/>
<circle cx="212.3" cy="426.4" r="1.55" fill="#c00024"/>
<circle cx="198.7" cy="413.6" r="1.55" fill="#c00024"/>
<circle cx="176.6" cy="391.3" r="1.55" fill="#c00024"/>
<circle cx="211.8" cy="408.6" r="1.55" fill="#c00024"/>
<circle cx="200.5" cy="393.6" r="1.55" fill="#c00024"/>
<circle cx="192.9" cy="383.9" r="1.55" fill="#c00024"/>
<circle cx="158.1" cy="358.2" r="1.55" fill="#c00024"/>
<circle cx="191.4" cy="379.1" r="1.55" fill="#c00024"/>
<circle cx="179.4" cy="377.5" r="1.55" fill="#c00024"/>
<circle cx="187.4" cy="383.4" r="1.55" fill="#c00024"/>
<circle cx="197.6" cy="348.1" r="1.55" fill="#c00024"/>
<circle cx="236.0" cy="372.6" r="1.55" fill="#c00024"/>
<circle cx="324.6" cy="418.0" r="1.55" fill="#c00024"/>
<circle cx="191.2" cy="341.5" r="1.55" fill="#c00024"/>
<circle cx="206.5" cy="351.9" r="1.55" fill="#c00024"/>
<circle cx="196.0" cy="347.3" r="1.55" fill="#c00024"/>
<circle cx="317.3" cy="410.2" r="1.55" fill="#c00024"/>
<circle cx="181.9" cy="337.7" r="1.55" fill="#c00024"/>
<circle cx="196.7" cy="345.0" r="1.55" fill="#c00024"/>
<circle cx="167.5" cy="332.5" r="1.55" fill="#c00024"/>
<circle cx="171.2" cy="333.9" r="1.55" fill="#c00024"/>
<circle cx="177.5" cy="339.7" r="1.55" fill="#c00024"/>
<circle cx="267.8" cy="417.6" r="1.55" fill="#c00024"/>
<circle cx="177.9" cy="359.6" r="1.55" fill="#c00024"/>
<circle cx="158.5" cy="346.8" r="1.55" fill="#c00024"/>
<circle cx="239.6" cy="400.3" r="1.55" fill="#c00024"/>
<circle cx="191.8" cy="369.0" r="1.55" fill="#c00024"/>
<circle cx="153.6" cy="340.1" r="1.55" fill="#c00024"/>
<circle cx="170.4" cy="355.7" r="1.55" fill="#c00024"/>
<circle cx="152.4" cy="341.6" r="1.55" fill="#c00024"/>
<circle cx="147.5" cy="385.6" r="1.55" fill="#0d4a80"/>
<circle cx="155.4" cy="384.7" r="1.55" fill="#0d4a80"/>
<circle cx="170.7" cy="378.3" r="1.55" fill="#0d4a80"/>
<circle cx="312.9" cy="401.6" r="1.55" fill="#c00024"/>
<circle cx="194.9" cy="328.6" r="1.55" fill="#c00024"/>
<circle cx="312.9" cy="402.2" r="1.55" fill="#c00024"/>
<circle cx="261.0" cy="368.9" r="1.55" fill="#c00024"/>
<circle cx="275.1" cy="375.7" r="1.55" fill="#c00024"/>
<circle cx="180.4" cy="319.7" r="1.55" fill="#c00024"/>
<circle cx="177.1" cy="316.7" r="1.55" fill="#c00024"/>
<circle cx="220.2" cy="413.5" r="1.55" fill="#c00024"/>
<circle cx="193.2" cy="393.6" r="1.55" fill="#c00024"/>
<circle cx="168.9" cy="377.2" r="1.55" fill="#c00024"/>
<circle cx="158.7" cy="367.4" r="1.55" fill="#c00024"/>
</g>
<rect x="141.3" y="281.4" width="4.5" height="227.8" fill="#fff" fill-opacity="0.15" stroke="#151515" stroke-width="1.05"/>
<line x1="146" y1="281.4" x2="332" y2="281.4" stroke="#777" stroke-width="0.9" stroke-dasharray="2.7,2.7"/>
<line x1="146.5" y1="509" x2="381.9" y2="370.5" stroke="#777" stroke-width="0.9" stroke-dasharray="2.7,2.7"/>
<rect x="375.4" y="297" width="124" height="44" fill="#fff"/>
<rect x="376.2" y="298.4" width="122.6" height="0.8" fill="#f2a5b8"/>
<rect x="376.2" y="299.2" width="122.6" height="0.8" fill="#d8385c"/>
<rect x="376.2" y="300.0" width="122.6" height="1.5" fill="#f6c3cf"/>
<rect x="376.2" y="301.5" width="122.6" height="2.0" fill="#cc1840"/>
<rect x="376.2" y="303.5" width="122.6" height="1.7" fill="#f8d0da"/>
<rect x="376.2" y="305.2" width="122.6" height="2.4" fill="#ec7f98"/>
<rect x="376.2" y="307.6" width="122.6" height="2.4" fill="#f5b0c0"/>
<rect x="376.2" y="310.0" width="122.6" height="1.6" fill="#e4486c"/>
<rect x="376.2" y="311.6" width="122.6" height="0.8" fill="#f3b3c2"/>
<rect x="376.2" y="312.4" width="122.6" height="1.9" fill="#d62248"/>
<rect x="376.2" y="314.3" width="122.6" height="0.8" fill="#9a1a45"/>
<rect x="376.2" y="315.1" width="122.6" height="3.4" fill="#0f4c86"/>
<rect x="376.2" y="318.5" width="122.6" height="1.8" fill="#5c88b5"/>
<rect x="376.2" y="320.3" width="122.6" height="1.7" fill="#1e5a96"/>
<rect x="376.2" y="322.0" width="122.6" height="1.7" fill="#c4d6e8"/>
<rect x="376.2" y="323.7" width="122.6" height="2.6" fill="#2a66a3"/>
<rect x="376.2" y="326.3" width="122.6" height="1.3" fill="#8fb0d0"/>
<rect x="430" y="327.6" width="68.8" height="1.2" fill="#6f97c0"/>
<rect x="430" y="328.8" width="68.8" height="1.2" fill="#c3d5e7"/>
<path d="M376.2,298.2 L392.5,298.2 L378,301.0 L376.2,301.0 Z" fill="#fff"/>
<polyline points="377.5,301.2 381.3,305.8 381.7,302.0 385.5,303.5 390.2,300.8 392.8,298.3" fill="none" stroke="#b41840" stroke-width="0.9"/>
<circle cx="377.5" cy="301.2" r="1.4" fill="#c00024"/>
<circle cx="381.3" cy="305.8" r="1.4" fill="#c00024"/>
<circle cx="381.7" cy="302.0" r="1.4" fill="#c00024"/>
<circle cx="385.5" cy="303.5" r="1.4" fill="#c00024"/>
<circle cx="390.2" cy="300.8" r="1.4" fill="#c00024"/>
<circle cx="392.8" cy="298.3" r="1.4" fill="#c00024"/>
<line x1="424" y1="303" x2="424" y2="318" stroke="#c00024" stroke-width="1.3"/>
<line x1="458" y1="318" x2="458" y2="326" stroke="#0d4a80" stroke-width="1.1"/>
<circle cx="424.0" cy="306.0" r="1.3" fill="#c00024"/>
<circle cx="423.5" cy="312.0" r="1.3" fill="#c00024"/>
<circle cx="430.0" cy="301.5" r="1.3" fill="#c00024"/>
<circle cx="447.0" cy="302.0" r="1.3" fill="#c00024"/>
<circle cx="452.0" cy="300.5" r="1.3" fill="#c00024"/>
<circle cx="470.0" cy="303.0" r="1.3" fill="#c00024"/>
<circle cx="484.0" cy="303.5" r="1.3" fill="#c00024"/>
<circle cx="480.0" cy="306.0" r="1.3" fill="#c00024"/>
<circle cx="498.0" cy="300.0" r="1.3" fill="#c00024"/>
<circle cx="488.0" cy="307.0" r="1.3" fill="#c00024"/>
<circle cx="427.0" cy="326.5" r="1.3" fill="#0d4a80"/>
<circle cx="441.0" cy="327.0" r="1.3" fill="#0d4a80"/>
<circle cx="474.0" cy="328.0" r="1.3" fill="#0d4a80"/>
<circle cx="491.0" cy="325.0" r="1.3" fill="#0d4a80"/>
<circle cx="458.0" cy="324.0" r="1.3" fill="#0d4a80"/>
<circle cx="403.0" cy="321.0" r="1.3" fill="#0d4a80"/>
<path d="M375.4,297 V341.3 H498.3" fill="none" stroke="#111" stroke-width="1.5"/>
<line x1="371" y1="301.50" x2="375.4" y2="301.50" stroke="#111" stroke-width="1.2"/>
<text x="365.2" y="305.60" font-size="11.8" text-anchor="end" fill="#1a1a1a">10</text>
<line x1="371" y1="314.10" x2="375.4" y2="314.10" stroke="#111" stroke-width="1.2"/>
<text x="365.2" y="318.20" font-size="11.8" text-anchor="end" fill="#1a1a1a">1</text>
<line x1="371" y1="326.70" x2="375.4" y2="326.70" stroke="#111" stroke-width="1.2"/>
<text x="365.2" y="330.80" font-size="11.8" text-anchor="end" fill="#1a1a1a">0.1</text>
<line x1="371" y1="339.30" x2="375.4" y2="339.30" stroke="#111" stroke-width="1.2"/>
<text x="365.2" y="343.40" font-size="11.8" text-anchor="end" fill="#1a1a1a">0.01</text>
<line x1="380.00" y1="341.3" x2="380.00" y2="345.6" stroke="#111" stroke-width="1.2"/>
<text x="380.00" y="361.4" font-size="11.8" text-anchor="middle" fill="#1a1a1a">−1.0</text>
<line x1="408.45" y1="341.3" x2="408.45" y2="345.6" stroke="#111" stroke-width="1.2"/>
<text x="408.45" y="361.4" font-size="11.8" text-anchor="middle" fill="#1a1a1a">−0.5</text>
<line x1="436.90" y1="341.3" x2="436.90" y2="345.6" stroke="#111" stroke-width="1.2"/>
<text x="436.90" y="361.4" font-size="11.8" text-anchor="middle" fill="#1a1a1a">0.0</text>
<line x1="465.35" y1="341.3" x2="465.35" y2="345.6" stroke="#111" stroke-width="1.2"/>
<text x="465.35" y="361.4" font-size="11.8" text-anchor="middle" fill="#1a1a1a">0.5</text>
<line x1="493.80" y1="341.3" x2="493.80" y2="345.6" stroke="#111" stroke-width="1.2"/>
<text x="493.80" y="361.4" font-size="11.8" text-anchor="middle" fill="#1a1a1a">1.0</text>
<text x="370" y="287.7" font-size="14" fill="#1a1a1a" textLength="137.5" lengthAdjust="spacingAndGlyphs">Time range day −1/+1</text>
<text x="11.6" y="26.4" font-size="17.2" font-weight="bold" fill="#111">A</text>
<text x="94.8" y="26.5" font-size="14.5" fill="#1a1a1a" textLength="368.8" lengthAdjust="spacingAndGlyphs">Distribution of alemtuzumab concentration at day of HSCT</text>
<text x="128.6" y="63.8" font-size="12.8" fill="#0d4a80" textLength="73" lengthAdjust="spacingAndGlyphs">Low exposure</text>
<text x="355.3" y="63.8" font-size="12.8" fill="#c00024" textLength="75.4" lengthAdjust="spacingAndGlyphs">High exposure</text>
<text x="158.2" y="219.2" font-size="14" fill="#1a1a1a" textLength="241" lengthAdjust="spacingAndGlyphs" stroke="#1a1a1a" stroke-width="0.35">Alemtuzumab concentration at day of HSCT (μg/mL)</text>
<text transform="translate(29.9,139.8) rotate(-90)" x="0" y="0" font-size="14.2" fill="#1a1a1a" textLength="32.2" lengthAdjust="spacingAndGlyphs" stroke="#1a1a1a" stroke-width="0.35">Density</text>
<text x="13.9" y="262.1" font-size="17.2" font-weight="bold" fill="#111">B</text>
<text x="93.4" y="262.5" font-size="14.5" fill="#1a1a1a" textLength="388.8" lengthAdjust="spacingAndGlyphs">Individual prediction of alemtuzumab concentration-time curve</text>
<text transform="translate(26.4,492.4) rotate(-90)" x="0" y="0" font-size="14" fill="#1a1a1a" textLength="168.7" lengthAdjust="spacingAndGlyphs" stroke="#1a1a1a" stroke-width="0.35">Alemtuzumab concentration (μg/mL)</text>
<text x="223.2" y="561" font-size="14" fill="#1a1a1a" textLength="130" lengthAdjust="spacingAndGlyphs" stroke="#1a1a1a" stroke-width="0.35">Time relative to HSCT (days)</text>
<text x="177.5" y="579.8" font-size="11.9" fill="#1a1a1a" textLength="114.4" lengthAdjust="spacingAndGlyphs">Alemtuzumab exposure</text>
<line x1="306.3" y1="576.3" x2="318.8" y2="576.3" stroke="#c00024" stroke-width="1"/>
<circle cx="312.5" cy="576.3" r="2.7" fill="#c00024"/>
<text x="324.2" y="579.8" font-size="11.9" fill="#1a1a1a" textLength="22" lengthAdjust="spacingAndGlyphs">High</text>
<line x1="361.3" y1="576.3" x2="374.3" y2="576.3" stroke="#0d4a80" stroke-width="1"/>
<circle cx="367.8" cy="576.3" r="2.7" fill="#0d4a80"/>
<text x="379.2" y="579.8" font-size="11.9" fill="#1a1a1a" textLength="20" lengthAdjust="spacingAndGlyphs">Low</text>
</svg>
</body></html>
